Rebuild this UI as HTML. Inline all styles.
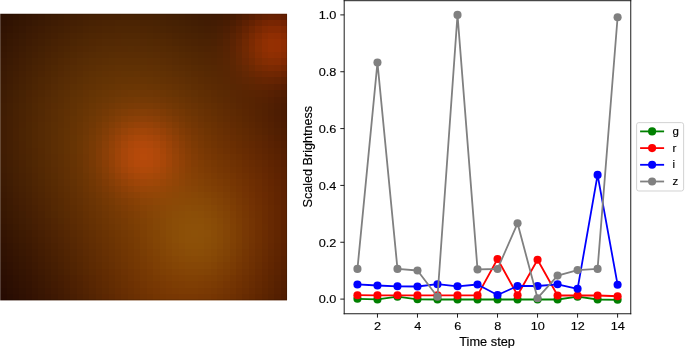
<!DOCTYPE html>
<html><head><meta charset="utf-8"><style>
html,body{margin:0;padding:0;background:#fff;}
body{width:685px;height:348px;overflow:hidden;position:relative;}
svg{position:absolute;display:block;}
.ch{will-change:transform;}
.ch{left:0;top:0;}
text{font-family:"Liberation Sans",sans-serif;font-size:11.1px;fill:#000;stroke:#000;stroke-width:0.15px;}
.tk{font-size:11.7px;} .lb{font-size:12.4px;} .lg{font-size:11.5px;}
</style></head><body>
<svg class="im" style="left:0;top:0" width="290" height="302" viewBox="0 0 290 302" shape-rendering="crispEdges"><rect x="1" y="14" width="6" height="6" fill="#2e1102"/><rect x="7" y="14" width="6" height="6" fill="#2f1202"/><rect x="13" y="14" width="6" height="6" fill="#311302"/><rect x="19" y="14" width="7" height="6" fill="#331502"/><rect x="26" y="14" width="6" height="6" fill="#351602"/><rect x="32" y="14" width="6" height="6" fill="#371703"/><rect x="38" y="14" width="7" height="6" fill="#391803"/><rect x="45" y="14" width="6" height="6" fill="#3b1a03"/><rect x="51" y="14" width="7" height="6" fill="#3d1b03"/><rect x="58" y="14" width="6" height="6" fill="#3e1c03"/><rect x="64" y="14" width="6" height="6" fill="#401d03"/><rect x="70" y="14" width="7" height="6" fill="#411e03"/><rect x="77" y="14" width="6" height="6" fill="#431e03"/><rect x="83" y="14" width="6" height="6" fill="#441f03"/><rect x="89" y="14" width="7" height="6" fill="#452003"/><rect x="96" y="14" width="6" height="6" fill="#462003"/><rect x="102" y="14" width="7" height="6" fill="#462103"/><rect x="109" y="14" width="6" height="6" fill="#472103"/><rect x="115" y="14" width="6" height="6" fill="#472103"/><rect x="121" y="14" width="7" height="6" fill="#482203"/><rect x="128" y="14" width="6" height="6" fill="#482203"/><rect x="134" y="14" width="6" height="6" fill="#472203"/><rect x="140" y="14" width="7" height="6" fill="#472103"/><rect x="147" y="14" width="6" height="6" fill="#472103"/><rect x="153" y="14" width="7" height="6" fill="#462103"/><rect x="160" y="14" width="6" height="6" fill="#452003"/><rect x="166" y="14" width="6" height="6" fill="#441f03"/><rect x="172" y="14" width="7" height="6" fill="#431f03"/><rect x="179" y="14" width="6" height="6" fill="#421e03"/><rect x="185" y="14" width="6" height="6" fill="#411d03"/><rect x="191" y="14" width="7" height="6" fill="#401c03"/><rect x="198" y="14" width="6" height="6" fill="#3f1b03"/><rect x="204" y="14" width="7" height="6" fill="#3f1b03"/><rect x="211" y="14" width="6" height="6" fill="#3f1a03"/><rect x="217" y="14" width="6" height="6" fill="#401a02"/><rect x="223" y="14" width="7" height="6" fill="#431a02"/><rect x="230" y="14" width="6" height="6" fill="#471b02"/><rect x="236" y="14" width="6" height="6" fill="#4d1c02"/><rect x="242" y="14" width="7" height="6" fill="#531d02"/><rect x="249" y="14" width="6" height="6" fill="#5a1e02"/><rect x="255" y="14" width="7" height="6" fill="#612002"/><rect x="262" y="14" width="6" height="6" fill="#662102"/><rect x="268" y="14" width="6" height="6" fill="#692102"/><rect x="274" y="14" width="7" height="6" fill="#692002"/><rect x="281" y="14" width="6" height="6" fill="#651f02"/><rect x="1" y="20" width="6" height="6" fill="#2f1202"/><rect x="7" y="20" width="6" height="6" fill="#311302"/><rect x="13" y="20" width="6" height="6" fill="#331502"/><rect x="19" y="20" width="7" height="6" fill="#351602"/><rect x="26" y="20" width="6" height="6" fill="#371703"/><rect x="32" y="20" width="6" height="6" fill="#391903"/><rect x="38" y="20" width="7" height="6" fill="#3b1a03"/><rect x="45" y="20" width="6" height="6" fill="#3d1b03"/><rect x="51" y="20" width="7" height="6" fill="#3f1c03"/><rect x="58" y="20" width="6" height="6" fill="#411d03"/><rect x="64" y="20" width="6" height="6" fill="#431e03"/><rect x="70" y="20" width="7" height="6" fill="#441f03"/><rect x="77" y="20" width="6" height="6" fill="#452003"/><rect x="83" y="20" width="6" height="6" fill="#472103"/><rect x="89" y="20" width="7" height="6" fill="#482203"/><rect x="96" y="20" width="6" height="6" fill="#492203"/><rect x="102" y="20" width="7" height="6" fill="#4a2303"/><rect x="109" y="20" width="6" height="6" fill="#4a2303"/><rect x="115" y="20" width="6" height="6" fill="#4b2403"/><rect x="121" y="20" width="7" height="6" fill="#4b2403"/><rect x="128" y="20" width="6" height="6" fill="#4b2403"/><rect x="134" y="20" width="6" height="6" fill="#4b2403"/><rect x="140" y="20" width="7" height="6" fill="#4a2303"/><rect x="147" y="20" width="6" height="6" fill="#4a2303"/><rect x="153" y="20" width="7" height="6" fill="#492303"/><rect x="160" y="20" width="6" height="6" fill="#482203"/><rect x="166" y="20" width="6" height="6" fill="#472103"/><rect x="172" y="20" width="7" height="6" fill="#462103"/><rect x="179" y="20" width="6" height="6" fill="#452003"/><rect x="185" y="20" width="6" height="6" fill="#441f03"/><rect x="191" y="20" width="7" height="6" fill="#431e03"/><rect x="198" y="20" width="6" height="6" fill="#421d03"/><rect x="204" y="20" width="7" height="6" fill="#421c03"/><rect x="211" y="20" width="6" height="6" fill="#431c03"/><rect x="217" y="20" width="6" height="6" fill="#451c03"/><rect x="223" y="20" width="7" height="6" fill="#481c02"/><rect x="230" y="20" width="6" height="6" fill="#4d1d02"/><rect x="236" y="20" width="6" height="6" fill="#541e02"/><rect x="242" y="20" width="7" height="6" fill="#5d2002"/><rect x="249" y="20" width="6" height="6" fill="#652202"/><rect x="255" y="20" width="7" height="6" fill="#6e2402"/><rect x="262" y="20" width="6" height="6" fill="#752502"/><rect x="268" y="20" width="6" height="6" fill="#782602"/><rect x="274" y="20" width="7" height="6" fill="#782502"/><rect x="281" y="20" width="6" height="6" fill="#742302"/><rect x="1" y="26" width="6" height="7" fill="#311302"/><rect x="7" y="26" width="6" height="7" fill="#331402"/><rect x="13" y="26" width="6" height="7" fill="#351602"/><rect x="19" y="26" width="7" height="7" fill="#371703"/><rect x="26" y="26" width="6" height="7" fill="#3a1903"/><rect x="32" y="26" width="6" height="7" fill="#3c1a03"/><rect x="38" y="26" width="7" height="7" fill="#3e1b03"/><rect x="45" y="26" width="6" height="7" fill="#401d03"/><rect x="51" y="26" width="7" height="7" fill="#421e03"/><rect x="58" y="26" width="6" height="7" fill="#431f03"/><rect x="64" y="26" width="6" height="7" fill="#452003"/><rect x="70" y="26" width="7" height="7" fill="#472103"/><rect x="77" y="26" width="6" height="7" fill="#482203"/><rect x="83" y="26" width="6" height="7" fill="#4a2303"/><rect x="89" y="26" width="7" height="7" fill="#4b2403"/><rect x="96" y="26" width="6" height="7" fill="#4c2403"/><rect x="102" y="26" width="7" height="7" fill="#4d2503"/><rect x="109" y="26" width="6" height="7" fill="#4d2503"/><rect x="115" y="26" width="6" height="7" fill="#4e2603"/><rect x="121" y="26" width="7" height="7" fill="#4e2603"/><rect x="128" y="26" width="6" height="7" fill="#4e2603"/><rect x="134" y="26" width="6" height="7" fill="#4e2603"/><rect x="140" y="26" width="7" height="7" fill="#4e2503"/><rect x="147" y="26" width="6" height="7" fill="#4d2503"/><rect x="153" y="26" width="7" height="7" fill="#4c2403"/><rect x="160" y="26" width="6" height="7" fill="#4b2403"/><rect x="166" y="26" width="6" height="7" fill="#4a2303"/><rect x="172" y="26" width="7" height="7" fill="#492203"/><rect x="179" y="26" width="6" height="7" fill="#482203"/><rect x="185" y="26" width="6" height="7" fill="#472103"/><rect x="191" y="26" width="7" height="7" fill="#462003"/><rect x="198" y="26" width="6" height="7" fill="#451f03"/><rect x="204" y="26" width="7" height="7" fill="#451e03"/><rect x="211" y="26" width="6" height="7" fill="#461e03"/><rect x="217" y="26" width="6" height="7" fill="#491e03"/><rect x="223" y="26" width="7" height="7" fill="#4d1e03"/><rect x="230" y="26" width="6" height="7" fill="#531f02"/><rect x="236" y="26" width="6" height="7" fill="#5b2102"/><rect x="242" y="26" width="7" height="7" fill="#652302"/><rect x="249" y="26" width="6" height="7" fill="#6f2602"/><rect x="255" y="26" width="7" height="7" fill="#792802"/><rect x="262" y="26" width="6" height="7" fill="#812a02"/><rect x="268" y="26" width="6" height="7" fill="#852a02"/><rect x="274" y="26" width="7" height="7" fill="#852a02"/><rect x="281" y="26" width="6" height="7" fill="#812802"/><rect x="1" y="33" width="6" height="6" fill="#331402"/><rect x="7" y="33" width="6" height="6" fill="#351602"/><rect x="13" y="33" width="6" height="6" fill="#371703"/><rect x="19" y="33" width="7" height="6" fill="#391903"/><rect x="26" y="33" width="6" height="6" fill="#3c1a03"/><rect x="32" y="33" width="6" height="6" fill="#3e1b03"/><rect x="38" y="33" width="7" height="6" fill="#401d03"/><rect x="45" y="33" width="6" height="6" fill="#421e03"/><rect x="51" y="33" width="7" height="6" fill="#441f03"/><rect x="58" y="33" width="6" height="6" fill="#462103"/><rect x="64" y="33" width="6" height="6" fill="#482203"/><rect x="70" y="33" width="7" height="6" fill="#4a2303"/><rect x="77" y="33" width="6" height="6" fill="#4b2403"/><rect x="83" y="33" width="6" height="6" fill="#4d2503"/><rect x="89" y="33" width="7" height="6" fill="#4e2603"/><rect x="96" y="33" width="6" height="6" fill="#4f2603"/><rect x="102" y="33" width="7" height="6" fill="#502703"/><rect x="109" y="33" width="6" height="6" fill="#502703"/><rect x="115" y="33" width="6" height="6" fill="#512703"/><rect x="121" y="33" width="7" height="6" fill="#512803"/><rect x="128" y="33" width="6" height="6" fill="#512803"/><rect x="134" y="33" width="6" height="6" fill="#512803"/><rect x="140" y="33" width="7" height="6" fill="#512703"/><rect x="147" y="33" width="6" height="6" fill="#502703"/><rect x="153" y="33" width="7" height="6" fill="#4f2603"/><rect x="160" y="33" width="6" height="6" fill="#4f2603"/><rect x="166" y="33" width="6" height="6" fill="#4e2503"/><rect x="172" y="33" width="7" height="6" fill="#4c2403"/><rect x="179" y="33" width="6" height="6" fill="#4b2303"/><rect x="185" y="33" width="6" height="6" fill="#4a2203"/><rect x="191" y="33" width="7" height="6" fill="#492203"/><rect x="198" y="33" width="6" height="6" fill="#482103"/><rect x="204" y="33" width="7" height="6" fill="#482003"/><rect x="211" y="33" width="6" height="6" fill="#492003"/><rect x="217" y="33" width="6" height="6" fill="#4c2003"/><rect x="223" y="33" width="7" height="6" fill="#512003"/><rect x="230" y="33" width="6" height="6" fill="#582203"/><rect x="236" y="33" width="6" height="6" fill="#602302"/><rect x="242" y="33" width="7" height="6" fill="#6b2602"/><rect x="249" y="33" width="6" height="6" fill="#772902"/><rect x="255" y="33" width="7" height="6" fill="#812b02"/><rect x="262" y="33" width="6" height="6" fill="#8a2d02"/><rect x="268" y="33" width="6" height="6" fill="#8f2e02"/><rect x="274" y="33" width="7" height="6" fill="#8f2d02"/><rect x="281" y="33" width="6" height="6" fill="#8a2b02"/><rect x="1" y="39" width="6" height="7" fill="#341502"/><rect x="7" y="39" width="6" height="7" fill="#371702"/><rect x="13" y="39" width="6" height="7" fill="#391803"/><rect x="19" y="39" width="7" height="7" fill="#3b1a03"/><rect x="26" y="39" width="6" height="7" fill="#3e1b03"/><rect x="32" y="39" width="6" height="7" fill="#401d03"/><rect x="38" y="39" width="7" height="7" fill="#421e03"/><rect x="45" y="39" width="6" height="7" fill="#442003"/><rect x="51" y="39" width="7" height="7" fill="#472103"/><rect x="58" y="39" width="6" height="7" fill="#492203"/><rect x="64" y="39" width="6" height="7" fill="#4a2303"/><rect x="70" y="39" width="7" height="7" fill="#4c2503"/><rect x="77" y="39" width="6" height="7" fill="#4e2603"/><rect x="83" y="39" width="6" height="7" fill="#4f2703"/><rect x="89" y="39" width="7" height="7" fill="#512703"/><rect x="96" y="39" width="6" height="7" fill="#522803"/><rect x="102" y="39" width="7" height="7" fill="#532904"/><rect x="109" y="39" width="6" height="7" fill="#532904"/><rect x="115" y="39" width="6" height="7" fill="#542904"/><rect x="121" y="39" width="7" height="7" fill="#542a04"/><rect x="128" y="39" width="6" height="7" fill="#542a04"/><rect x="134" y="39" width="6" height="7" fill="#542a04"/><rect x="140" y="39" width="7" height="7" fill="#542904"/><rect x="147" y="39" width="6" height="7" fill="#532903"/><rect x="153" y="39" width="7" height="7" fill="#532803"/><rect x="160" y="39" width="6" height="7" fill="#522803"/><rect x="166" y="39" width="6" height="7" fill="#512703"/><rect x="172" y="39" width="7" height="7" fill="#4f2603"/><rect x="179" y="39" width="6" height="7" fill="#4e2503"/><rect x="185" y="39" width="6" height="7" fill="#4d2403"/><rect x="191" y="39" width="7" height="7" fill="#4c2303"/><rect x="198" y="39" width="6" height="7" fill="#4b2203"/><rect x="204" y="39" width="7" height="7" fill="#4b2203"/><rect x="211" y="39" width="6" height="7" fill="#4c2103"/><rect x="217" y="39" width="6" height="7" fill="#4f2103"/><rect x="223" y="39" width="7" height="7" fill="#542203"/><rect x="230" y="39" width="6" height="7" fill="#5b2303"/><rect x="236" y="39" width="6" height="7" fill="#642503"/><rect x="242" y="39" width="7" height="7" fill="#6f2802"/><rect x="249" y="39" width="6" height="7" fill="#7b2a02"/><rect x="255" y="39" width="7" height="7" fill="#862d02"/><rect x="262" y="39" width="6" height="7" fill="#8f2f02"/><rect x="268" y="39" width="6" height="7" fill="#943002"/><rect x="274" y="39" width="7" height="7" fill="#942f02"/><rect x="281" y="39" width="6" height="7" fill="#8f2d02"/><rect x="1" y="46" width="6" height="6" fill="#361602"/><rect x="7" y="46" width="6" height="6" fill="#381803"/><rect x="13" y="46" width="6" height="6" fill="#3b1903"/><rect x="19" y="46" width="7" height="6" fill="#3d1b03"/><rect x="26" y="46" width="6" height="6" fill="#401d03"/><rect x="32" y="46" width="6" height="6" fill="#421e03"/><rect x="38" y="46" width="7" height="6" fill="#442003"/><rect x="45" y="46" width="6" height="6" fill="#472103"/><rect x="51" y="46" width="7" height="6" fill="#492203"/><rect x="58" y="46" width="6" height="6" fill="#4b2403"/><rect x="64" y="46" width="6" height="6" fill="#4d2503"/><rect x="70" y="46" width="7" height="6" fill="#4f2603"/><rect x="77" y="46" width="6" height="6" fill="#512703"/><rect x="83" y="46" width="6" height="6" fill="#522803"/><rect x="89" y="46" width="7" height="6" fill="#532904"/><rect x="96" y="46" width="6" height="6" fill="#552a04"/><rect x="102" y="46" width="7" height="6" fill="#562b04"/><rect x="109" y="46" width="6" height="6" fill="#562b04"/><rect x="115" y="46" width="6" height="6" fill="#572b04"/><rect x="121" y="46" width="7" height="6" fill="#572b04"/><rect x="128" y="46" width="6" height="6" fill="#572c04"/><rect x="134" y="46" width="6" height="6" fill="#572b04"/><rect x="140" y="46" width="7" height="6" fill="#572b04"/><rect x="147" y="46" width="6" height="6" fill="#562b04"/><rect x="153" y="46" width="7" height="6" fill="#562a04"/><rect x="160" y="46" width="6" height="6" fill="#552a03"/><rect x="166" y="46" width="6" height="6" fill="#542903"/><rect x="172" y="46" width="7" height="6" fill="#532803"/><rect x="179" y="46" width="6" height="6" fill="#512703"/><rect x="185" y="46" width="6" height="6" fill="#502603"/><rect x="191" y="46" width="7" height="6" fill="#4f2503"/><rect x="198" y="46" width="6" height="6" fill="#4e2403"/><rect x="204" y="46" width="7" height="6" fill="#4e2303"/><rect x="211" y="46" width="6" height="6" fill="#4f2303"/><rect x="217" y="46" width="6" height="6" fill="#522303"/><rect x="223" y="46" width="7" height="6" fill="#562303"/><rect x="230" y="46" width="6" height="6" fill="#5d2403"/><rect x="236" y="46" width="6" height="6" fill="#662603"/><rect x="242" y="46" width="7" height="6" fill="#702902"/><rect x="249" y="46" width="6" height="6" fill="#7c2b02"/><rect x="255" y="46" width="7" height="6" fill="#862e02"/><rect x="262" y="46" width="6" height="6" fill="#8f2f02"/><rect x="268" y="46" width="6" height="6" fill="#943002"/><rect x="274" y="46" width="7" height="6" fill="#942f02"/><rect x="281" y="46" width="6" height="6" fill="#8e2d02"/><rect x="1" y="52" width="6" height="6" fill="#371703"/><rect x="7" y="52" width="6" height="6" fill="#3a1903"/><rect x="13" y="52" width="6" height="6" fill="#3c1a03"/><rect x="19" y="52" width="7" height="6" fill="#3f1c03"/><rect x="26" y="52" width="6" height="6" fill="#411e03"/><rect x="32" y="52" width="6" height="6" fill="#441f03"/><rect x="38" y="52" width="7" height="6" fill="#462103"/><rect x="45" y="52" width="6" height="6" fill="#492203"/><rect x="51" y="52" width="7" height="6" fill="#4b2403"/><rect x="58" y="52" width="6" height="6" fill="#4d2503"/><rect x="64" y="52" width="6" height="6" fill="#4f2703"/><rect x="70" y="52" width="7" height="6" fill="#512803"/><rect x="77" y="52" width="6" height="6" fill="#532904"/><rect x="83" y="52" width="6" height="6" fill="#552a04"/><rect x="89" y="52" width="7" height="6" fill="#562b04"/><rect x="96" y="52" width="6" height="6" fill="#572c04"/><rect x="102" y="52" width="7" height="6" fill="#582c04"/><rect x="109" y="52" width="6" height="6" fill="#592d04"/><rect x="115" y="52" width="6" height="6" fill="#5a2d04"/><rect x="121" y="52" width="7" height="6" fill="#5a2d04"/><rect x="128" y="52" width="6" height="6" fill="#5a2d04"/><rect x="134" y="52" width="6" height="6" fill="#5a2d04"/><rect x="140" y="52" width="7" height="6" fill="#5a2d04"/><rect x="147" y="52" width="6" height="6" fill="#592d04"/><rect x="153" y="52" width="7" height="6" fill="#592c04"/><rect x="160" y="52" width="6" height="6" fill="#582b04"/><rect x="166" y="52" width="6" height="6" fill="#572b04"/><rect x="172" y="52" width="7" height="6" fill="#562a03"/><rect x="179" y="52" width="6" height="6" fill="#542903"/><rect x="185" y="52" width="6" height="6" fill="#532803"/><rect x="191" y="52" width="7" height="6" fill="#522703"/><rect x="198" y="52" width="6" height="6" fill="#512603"/><rect x="204" y="52" width="7" height="6" fill="#512503"/><rect x="211" y="52" width="6" height="6" fill="#512403"/><rect x="217" y="52" width="6" height="6" fill="#532403"/><rect x="223" y="52" width="7" height="6" fill="#572403"/><rect x="230" y="52" width="6" height="6" fill="#5d2503"/><rect x="236" y="52" width="6" height="6" fill="#652703"/><rect x="242" y="52" width="7" height="6" fill="#6f2903"/><rect x="249" y="52" width="6" height="6" fill="#792b02"/><rect x="255" y="52" width="7" height="6" fill="#832d02"/><rect x="262" y="52" width="6" height="6" fill="#8b2e02"/><rect x="268" y="52" width="6" height="6" fill="#8f2f02"/><rect x="274" y="52" width="7" height="6" fill="#8e2e02"/><rect x="281" y="52" width="6" height="6" fill="#892c02"/><rect x="1" y="58" width="6" height="7" fill="#391803"/><rect x="7" y="58" width="6" height="7" fill="#3b1a03"/><rect x="13" y="58" width="6" height="7" fill="#3e1b03"/><rect x="19" y="58" width="7" height="7" fill="#411d03"/><rect x="26" y="58" width="6" height="7" fill="#431f03"/><rect x="32" y="58" width="6" height="7" fill="#462103"/><rect x="38" y="58" width="7" height="7" fill="#482203"/><rect x="45" y="58" width="6" height="7" fill="#4b2403"/><rect x="51" y="58" width="7" height="7" fill="#4d2503"/><rect x="58" y="58" width="6" height="7" fill="#502703"/><rect x="64" y="58" width="6" height="7" fill="#522803"/><rect x="70" y="58" width="7" height="7" fill="#542904"/><rect x="77" y="58" width="6" height="7" fill="#562b04"/><rect x="83" y="58" width="6" height="7" fill="#572c04"/><rect x="89" y="58" width="7" height="7" fill="#592d04"/><rect x="96" y="58" width="6" height="7" fill="#5a2d04"/><rect x="102" y="58" width="7" height="7" fill="#5b2e04"/><rect x="109" y="58" width="6" height="7" fill="#5c2f04"/><rect x="115" y="58" width="6" height="7" fill="#5d2f04"/><rect x="121" y="58" width="7" height="7" fill="#5d2f04"/><rect x="128" y="58" width="6" height="7" fill="#5d2f04"/><rect x="134" y="58" width="6" height="7" fill="#5d2f04"/><rect x="140" y="58" width="7" height="7" fill="#5d2f04"/><rect x="147" y="58" width="6" height="7" fill="#5d2e04"/><rect x="153" y="58" width="7" height="7" fill="#5c2e04"/><rect x="160" y="58" width="6" height="7" fill="#5b2d04"/><rect x="166" y="58" width="6" height="7" fill="#5a2c04"/><rect x="172" y="58" width="7" height="7" fill="#582b04"/><rect x="179" y="58" width="6" height="7" fill="#572a03"/><rect x="185" y="58" width="6" height="7" fill="#562903"/><rect x="191" y="58" width="7" height="7" fill="#542803"/><rect x="198" y="58" width="6" height="7" fill="#532703"/><rect x="204" y="58" width="7" height="7" fill="#532603"/><rect x="211" y="58" width="6" height="7" fill="#532503"/><rect x="217" y="58" width="6" height="7" fill="#552503"/><rect x="223" y="58" width="7" height="7" fill="#582503"/><rect x="230" y="58" width="6" height="7" fill="#5d2603"/><rect x="236" y="58" width="6" height="7" fill="#642703"/><rect x="242" y="58" width="7" height="7" fill="#6c2803"/><rect x="249" y="58" width="6" height="7" fill="#742a02"/><rect x="255" y="58" width="7" height="7" fill="#7d2c02"/><rect x="262" y="58" width="6" height="7" fill="#832d02"/><rect x="268" y="58" width="6" height="7" fill="#862d02"/><rect x="274" y="58" width="7" height="7" fill="#862c02"/><rect x="281" y="58" width="6" height="7" fill="#812902"/><rect x="1" y="65" width="6" height="6" fill="#3a1903"/><rect x="7" y="65" width="6" height="6" fill="#3d1b03"/><rect x="13" y="65" width="6" height="6" fill="#3f1c03"/><rect x="19" y="65" width="7" height="6" fill="#421e03"/><rect x="26" y="65" width="6" height="6" fill="#452003"/><rect x="32" y="65" width="6" height="6" fill="#482203"/><rect x="38" y="65" width="7" height="6" fill="#4a2303"/><rect x="45" y="65" width="6" height="6" fill="#4d2503"/><rect x="51" y="65" width="7" height="6" fill="#4f2703"/><rect x="58" y="65" width="6" height="6" fill="#522803"/><rect x="64" y="65" width="6" height="6" fill="#542a04"/><rect x="70" y="65" width="7" height="6" fill="#562b04"/><rect x="77" y="65" width="6" height="6" fill="#582c04"/><rect x="83" y="65" width="6" height="6" fill="#5a2d04"/><rect x="89" y="65" width="7" height="6" fill="#5b2e04"/><rect x="96" y="65" width="6" height="6" fill="#5d2f04"/><rect x="102" y="65" width="7" height="6" fill="#5e3004"/><rect x="109" y="65" width="6" height="6" fill="#5f3004"/><rect x="115" y="65" width="6" height="6" fill="#603104"/><rect x="121" y="65" width="7" height="6" fill="#603104"/><rect x="128" y="65" width="6" height="6" fill="#603104"/><rect x="134" y="65" width="6" height="6" fill="#603104"/><rect x="140" y="65" width="7" height="6" fill="#603104"/><rect x="147" y="65" width="6" height="6" fill="#603004"/><rect x="153" y="65" width="7" height="6" fill="#5f3004"/><rect x="160" y="65" width="6" height="6" fill="#5e2f04"/><rect x="166" y="65" width="6" height="6" fill="#5d2e04"/><rect x="172" y="65" width="7" height="6" fill="#5b2d04"/><rect x="179" y="65" width="6" height="6" fill="#5a2c04"/><rect x="185" y="65" width="6" height="6" fill="#592b03"/><rect x="191" y="65" width="7" height="6" fill="#572a03"/><rect x="198" y="65" width="6" height="6" fill="#562903"/><rect x="204" y="65" width="7" height="6" fill="#552803"/><rect x="211" y="65" width="6" height="6" fill="#552703"/><rect x="217" y="65" width="6" height="6" fill="#562603"/><rect x="223" y="65" width="7" height="6" fill="#582603"/><rect x="230" y="65" width="6" height="6" fill="#5c2603"/><rect x="236" y="65" width="6" height="6" fill="#612703"/><rect x="242" y="65" width="7" height="6" fill="#672803"/><rect x="249" y="65" width="6" height="6" fill="#6e2902"/><rect x="255" y="65" width="7" height="6" fill="#752a02"/><rect x="262" y="65" width="6" height="6" fill="#792a02"/><rect x="268" y="65" width="6" height="6" fill="#7c2a02"/><rect x="274" y="65" width="7" height="6" fill="#7b2902"/><rect x="281" y="65" width="6" height="6" fill="#762702"/><rect x="1" y="71" width="6" height="6" fill="#3b1a03"/><rect x="7" y="71" width="6" height="6" fill="#3e1c03"/><rect x="13" y="71" width="6" height="6" fill="#411d03"/><rect x="19" y="71" width="7" height="6" fill="#441f03"/><rect x="26" y="71" width="6" height="6" fill="#472103"/><rect x="32" y="71" width="6" height="6" fill="#492303"/><rect x="38" y="71" width="7" height="6" fill="#4c2403"/><rect x="45" y="71" width="6" height="6" fill="#4f2603"/><rect x="51" y="71" width="7" height="6" fill="#512803"/><rect x="58" y="71" width="6" height="6" fill="#542904"/><rect x="64" y="71" width="6" height="6" fill="#562b04"/><rect x="70" y="71" width="7" height="6" fill="#582c04"/><rect x="77" y="71" width="6" height="6" fill="#5a2d04"/><rect x="83" y="71" width="6" height="6" fill="#5c2f04"/><rect x="89" y="71" width="7" height="6" fill="#5e3004"/><rect x="96" y="71" width="6" height="6" fill="#5f3104"/><rect x="102" y="71" width="7" height="6" fill="#613104"/><rect x="109" y="71" width="6" height="6" fill="#623204"/><rect x="115" y="71" width="6" height="6" fill="#633204"/><rect x="121" y="71" width="7" height="6" fill="#633304"/><rect x="128" y="71" width="6" height="6" fill="#633304"/><rect x="134" y="71" width="6" height="6" fill="#643304"/><rect x="140" y="71" width="7" height="6" fill="#633204"/><rect x="147" y="71" width="6" height="6" fill="#633204"/><rect x="153" y="71" width="7" height="6" fill="#623104"/><rect x="160" y="71" width="6" height="6" fill="#613104"/><rect x="166" y="71" width="6" height="6" fill="#603004"/><rect x="172" y="71" width="7" height="6" fill="#5e2f04"/><rect x="179" y="71" width="6" height="6" fill="#5d2e04"/><rect x="185" y="71" width="6" height="6" fill="#5b2d04"/><rect x="191" y="71" width="7" height="6" fill="#5a2b03"/><rect x="198" y="71" width="6" height="6" fill="#592a03"/><rect x="204" y="71" width="7" height="6" fill="#572903"/><rect x="211" y="71" width="6" height="6" fill="#572803"/><rect x="217" y="71" width="6" height="6" fill="#572703"/><rect x="223" y="71" width="7" height="6" fill="#582603"/><rect x="230" y="71" width="6" height="6" fill="#5b2603"/><rect x="236" y="71" width="6" height="6" fill="#5e2603"/><rect x="242" y="71" width="7" height="6" fill="#632703"/><rect x="249" y="71" width="6" height="6" fill="#682702"/><rect x="255" y="71" width="7" height="6" fill="#6c2702"/><rect x="262" y="71" width="6" height="6" fill="#6f2702"/><rect x="268" y="71" width="6" height="6" fill="#702702"/><rect x="274" y="71" width="7" height="6" fill="#6f2602"/><rect x="281" y="71" width="6" height="6" fill="#6b2302"/><rect x="1" y="77" width="6" height="7" fill="#3c1a03"/><rect x="7" y="77" width="6" height="7" fill="#3f1c03"/><rect x="13" y="77" width="6" height="7" fill="#421e03"/><rect x="19" y="77" width="7" height="7" fill="#452003"/><rect x="26" y="77" width="6" height="7" fill="#482203"/><rect x="32" y="77" width="6" height="7" fill="#4b2403"/><rect x="38" y="77" width="7" height="7" fill="#4e2603"/><rect x="45" y="77" width="6" height="7" fill="#502703"/><rect x="51" y="77" width="7" height="7" fill="#532904"/><rect x="58" y="77" width="6" height="7" fill="#562b04"/><rect x="64" y="77" width="6" height="7" fill="#582c04"/><rect x="70" y="77" width="7" height="7" fill="#5a2d04"/><rect x="77" y="77" width="6" height="7" fill="#5c2f04"/><rect x="83" y="77" width="6" height="7" fill="#5e3004"/><rect x="89" y="77" width="7" height="7" fill="#603104"/><rect x="96" y="77" width="6" height="7" fill="#623204"/><rect x="102" y="77" width="7" height="7" fill="#633304"/><rect x="109" y="77" width="6" height="7" fill="#643304"/><rect x="115" y="77" width="6" height="7" fill="#663404"/><rect x="121" y="77" width="7" height="7" fill="#663404"/><rect x="128" y="77" width="6" height="7" fill="#673404"/><rect x="134" y="77" width="6" height="7" fill="#673404"/><rect x="140" y="77" width="7" height="7" fill="#673404"/><rect x="147" y="77" width="6" height="7" fill="#663404"/><rect x="153" y="77" width="7" height="7" fill="#653304"/><rect x="160" y="77" width="6" height="7" fill="#643204"/><rect x="166" y="77" width="6" height="7" fill="#633104"/><rect x="172" y="77" width="7" height="7" fill="#623004"/><rect x="179" y="77" width="6" height="7" fill="#602f04"/><rect x="185" y="77" width="6" height="7" fill="#5e2e04"/><rect x="191" y="77" width="7" height="7" fill="#5d2d03"/><rect x="198" y="77" width="6" height="7" fill="#5b2b03"/><rect x="204" y="77" width="7" height="7" fill="#5a2a03"/><rect x="211" y="77" width="6" height="7" fill="#592903"/><rect x="217" y="77" width="6" height="7" fill="#582803"/><rect x="223" y="77" width="7" height="7" fill="#592703"/><rect x="230" y="77" width="6" height="7" fill="#5a2603"/><rect x="236" y="77" width="6" height="7" fill="#5c2603"/><rect x="242" y="77" width="7" height="7" fill="#5f2603"/><rect x="249" y="77" width="6" height="7" fill="#612602"/><rect x="255" y="77" width="7" height="7" fill="#642502"/><rect x="262" y="77" width="6" height="7" fill="#662502"/><rect x="268" y="77" width="6" height="7" fill="#662402"/><rect x="274" y="77" width="7" height="7" fill="#642302"/><rect x="281" y="77" width="6" height="7" fill="#602102"/><rect x="1" y="84" width="6" height="6" fill="#3d1b03"/><rect x="7" y="84" width="6" height="6" fill="#401d03"/><rect x="13" y="84" width="6" height="6" fill="#431f03"/><rect x="19" y="84" width="7" height="6" fill="#462103"/><rect x="26" y="84" width="6" height="6" fill="#492303"/><rect x="32" y="84" width="6" height="6" fill="#4c2503"/><rect x="38" y="84" width="7" height="6" fill="#4f2603"/><rect x="45" y="84" width="6" height="6" fill="#522803"/><rect x="51" y="84" width="7" height="6" fill="#552a04"/><rect x="58" y="84" width="6" height="6" fill="#572c04"/><rect x="64" y="84" width="6" height="6" fill="#5a2d04"/><rect x="70" y="84" width="7" height="6" fill="#5c2f04"/><rect x="77" y="84" width="6" height="6" fill="#5e3004"/><rect x="83" y="84" width="6" height="6" fill="#613104"/><rect x="89" y="84" width="7" height="6" fill="#623204"/><rect x="96" y="84" width="6" height="6" fill="#643304"/><rect x="102" y="84" width="7" height="6" fill="#663404"/><rect x="109" y="84" width="6" height="6" fill="#673504"/><rect x="115" y="84" width="6" height="6" fill="#693504"/><rect x="121" y="84" width="7" height="6" fill="#6a3604"/><rect x="128" y="84" width="6" height="6" fill="#6a3604"/><rect x="134" y="84" width="6" height="6" fill="#6b3604"/><rect x="140" y="84" width="7" height="6" fill="#6b3604"/><rect x="147" y="84" width="6" height="6" fill="#6a3504"/><rect x="153" y="84" width="7" height="6" fill="#693504"/><rect x="160" y="84" width="6" height="6" fill="#683404"/><rect x="166" y="84" width="6" height="6" fill="#673304"/><rect x="172" y="84" width="7" height="6" fill="#653204"/><rect x="179" y="84" width="6" height="6" fill="#633104"/><rect x="185" y="84" width="6" height="6" fill="#613004"/><rect x="191" y="84" width="7" height="6" fill="#5f2e03"/><rect x="198" y="84" width="6" height="6" fill="#5e2d03"/><rect x="204" y="84" width="7" height="6" fill="#5c2b03"/><rect x="211" y="84" width="6" height="6" fill="#5b2a03"/><rect x="217" y="84" width="6" height="6" fill="#5a2903"/><rect x="223" y="84" width="7" height="6" fill="#592803"/><rect x="230" y="84" width="6" height="6" fill="#592703"/><rect x="236" y="84" width="6" height="6" fill="#5a2603"/><rect x="242" y="84" width="7" height="6" fill="#5b2502"/><rect x="249" y="84" width="6" height="6" fill="#5d2502"/><rect x="255" y="84" width="7" height="6" fill="#5e2402"/><rect x="262" y="84" width="6" height="6" fill="#5e2302"/><rect x="268" y="84" width="6" height="6" fill="#5d2202"/><rect x="274" y="84" width="7" height="6" fill="#5b2002"/><rect x="281" y="84" width="6" height="6" fill="#581e02"/><rect x="1" y="90" width="6" height="7" fill="#3e1c03"/><rect x="7" y="90" width="6" height="7" fill="#411e03"/><rect x="13" y="90" width="6" height="7" fill="#442003"/><rect x="19" y="90" width="7" height="7" fill="#472203"/><rect x="26" y="90" width="6" height="7" fill="#4b2303"/><rect x="32" y="90" width="6" height="7" fill="#4e2503"/><rect x="38" y="90" width="7" height="7" fill="#502703"/><rect x="45" y="90" width="6" height="7" fill="#532904"/><rect x="51" y="90" width="7" height="7" fill="#562b04"/><rect x="58" y="90" width="6" height="7" fill="#592d04"/><rect x="64" y="90" width="6" height="7" fill="#5b2e04"/><rect x="70" y="90" width="7" height="7" fill="#5e3004"/><rect x="77" y="90" width="6" height="7" fill="#603104"/><rect x="83" y="90" width="6" height="7" fill="#633204"/><rect x="89" y="90" width="7" height="7" fill="#653404"/><rect x="96" y="90" width="6" height="7" fill="#673504"/><rect x="102" y="90" width="7" height="7" fill="#693604"/><rect x="109" y="90" width="6" height="7" fill="#6b3604"/><rect x="115" y="90" width="6" height="7" fill="#6c3705"/><rect x="121" y="90" width="7" height="7" fill="#6e3705"/><rect x="128" y="90" width="6" height="7" fill="#6f3805"/><rect x="134" y="90" width="6" height="7" fill="#6f3805"/><rect x="140" y="90" width="7" height="7" fill="#6f3705"/><rect x="147" y="90" width="6" height="7" fill="#6f3705"/><rect x="153" y="90" width="7" height="7" fill="#6e3604"/><rect x="160" y="90" width="6" height="7" fill="#6c3604"/><rect x="166" y="90" width="6" height="7" fill="#6a3504"/><rect x="172" y="90" width="7" height="7" fill="#683404"/><rect x="179" y="90" width="6" height="7" fill="#663204"/><rect x="185" y="90" width="6" height="7" fill="#643104"/><rect x="191" y="90" width="7" height="7" fill="#623004"/><rect x="198" y="90" width="6" height="7" fill="#602e03"/><rect x="204" y="90" width="7" height="7" fill="#5f2d03"/><rect x="211" y="90" width="6" height="7" fill="#5d2b03"/><rect x="217" y="90" width="6" height="7" fill="#5b2a03"/><rect x="223" y="90" width="7" height="7" fill="#5a2903"/><rect x="230" y="90" width="6" height="7" fill="#5a2703"/><rect x="236" y="90" width="6" height="7" fill="#592603"/><rect x="242" y="90" width="7" height="7" fill="#592502"/><rect x="249" y="90" width="6" height="7" fill="#592402"/><rect x="255" y="90" width="7" height="7" fill="#592302"/><rect x="262" y="90" width="6" height="7" fill="#582202"/><rect x="268" y="90" width="6" height="7" fill="#572002"/><rect x="274" y="90" width="7" height="7" fill="#541f02"/><rect x="281" y="90" width="6" height="7" fill="#511d02"/><rect x="1" y="97" width="6" height="6" fill="#3f1c03"/><rect x="7" y="97" width="6" height="6" fill="#421e03"/><rect x="13" y="97" width="6" height="6" fill="#452003"/><rect x="19" y="97" width="7" height="6" fill="#482203"/><rect x="26" y="97" width="6" height="6" fill="#4c2403"/><rect x="32" y="97" width="6" height="6" fill="#4f2603"/><rect x="38" y="97" width="7" height="6" fill="#522803"/><rect x="45" y="97" width="6" height="6" fill="#552a04"/><rect x="51" y="97" width="7" height="6" fill="#572c04"/><rect x="58" y="97" width="6" height="6" fill="#5a2d04"/><rect x="64" y="97" width="6" height="6" fill="#5d2f04"/><rect x="70" y="97" width="7" height="6" fill="#603104"/><rect x="77" y="97" width="6" height="6" fill="#623204"/><rect x="83" y="97" width="6" height="6" fill="#653304"/><rect x="89" y="97" width="7" height="6" fill="#673504"/><rect x="96" y="97" width="6" height="6" fill="#6a3604"/><rect x="102" y="97" width="7" height="6" fill="#6c3705"/><rect x="109" y="97" width="6" height="6" fill="#6e3805"/><rect x="115" y="97" width="6" height="6" fill="#713905"/><rect x="121" y="97" width="7" height="6" fill="#733905"/><rect x="128" y="97" width="6" height="6" fill="#743905"/><rect x="134" y="97" width="6" height="6" fill="#753a05"/><rect x="140" y="97" width="7" height="6" fill="#753905"/><rect x="147" y="97" width="6" height="6" fill="#743905"/><rect x="153" y="97" width="7" height="6" fill="#733805"/><rect x="160" y="97" width="6" height="6" fill="#713705"/><rect x="166" y="97" width="6" height="6" fill="#6f3604"/><rect x="172" y="97" width="7" height="6" fill="#6d3504"/><rect x="179" y="97" width="6" height="6" fill="#6a3404"/><rect x="185" y="97" width="6" height="6" fill="#683204"/><rect x="191" y="97" width="7" height="6" fill="#653104"/><rect x="198" y="97" width="6" height="6" fill="#632f03"/><rect x="204" y="97" width="7" height="6" fill="#612e03"/><rect x="211" y="97" width="6" height="6" fill="#5f2c03"/><rect x="217" y="97" width="6" height="6" fill="#5d2b03"/><rect x="223" y="97" width="7" height="6" fill="#5c2903"/><rect x="230" y="97" width="6" height="6" fill="#5a2803"/><rect x="236" y="97" width="6" height="6" fill="#592603"/><rect x="242" y="97" width="7" height="6" fill="#582502"/><rect x="249" y="97" width="6" height="6" fill="#572402"/><rect x="255" y="97" width="7" height="6" fill="#562202"/><rect x="262" y="97" width="6" height="6" fill="#552102"/><rect x="268" y="97" width="6" height="6" fill="#531f02"/><rect x="274" y="97" width="7" height="6" fill="#501d02"/><rect x="281" y="97" width="6" height="6" fill="#4d1c02"/><rect x="1" y="103" width="6" height="6" fill="#401d03"/><rect x="7" y="103" width="6" height="6" fill="#431f03"/><rect x="13" y="103" width="6" height="6" fill="#462103"/><rect x="19" y="103" width="7" height="6" fill="#492303"/><rect x="26" y="103" width="6" height="6" fill="#4c2503"/><rect x="32" y="103" width="6" height="6" fill="#502703"/><rect x="38" y="103" width="7" height="6" fill="#532903"/><rect x="45" y="103" width="6" height="6" fill="#562a04"/><rect x="51" y="103" width="7" height="6" fill="#592c04"/><rect x="58" y="103" width="6" height="6" fill="#5b2e04"/><rect x="64" y="103" width="6" height="6" fill="#5e3004"/><rect x="70" y="103" width="7" height="6" fill="#613104"/><rect x="77" y="103" width="6" height="6" fill="#643304"/><rect x="83" y="103" width="6" height="6" fill="#673404"/><rect x="89" y="103" width="7" height="6" fill="#6a3604"/><rect x="96" y="103" width="6" height="6" fill="#6d3705"/><rect x="102" y="103" width="7" height="6" fill="#703805"/><rect x="109" y="103" width="6" height="6" fill="#733905"/><rect x="115" y="103" width="6" height="6" fill="#763a05"/><rect x="121" y="103" width="7" height="6" fill="#783b05"/><rect x="128" y="103" width="6" height="6" fill="#7a3b05"/><rect x="134" y="103" width="6" height="6" fill="#7b3b06"/><rect x="140" y="103" width="7" height="6" fill="#7b3b05"/><rect x="147" y="103" width="6" height="6" fill="#7b3b05"/><rect x="153" y="103" width="7" height="6" fill="#793a05"/><rect x="160" y="103" width="6" height="6" fill="#773905"/><rect x="166" y="103" width="6" height="6" fill="#743805"/><rect x="172" y="103" width="7" height="6" fill="#713704"/><rect x="179" y="103" width="6" height="6" fill="#6e3504"/><rect x="185" y="103" width="6" height="6" fill="#6b3404"/><rect x="191" y="103" width="7" height="6" fill="#693204"/><rect x="198" y="103" width="6" height="6" fill="#663103"/><rect x="204" y="103" width="7" height="6" fill="#642f03"/><rect x="211" y="103" width="6" height="6" fill="#622e03"/><rect x="217" y="103" width="6" height="6" fill="#602c03"/><rect x="223" y="103" width="7" height="6" fill="#5e2a03"/><rect x="230" y="103" width="6" height="6" fill="#5c2903"/><rect x="236" y="103" width="6" height="6" fill="#5a2703"/><rect x="242" y="103" width="7" height="6" fill="#592502"/><rect x="249" y="103" width="6" height="6" fill="#572402"/><rect x="255" y="103" width="7" height="6" fill="#552202"/><rect x="262" y="103" width="6" height="6" fill="#532102"/><rect x="268" y="103" width="6" height="6" fill="#511f02"/><rect x="274" y="103" width="7" height="6" fill="#4e1d02"/><rect x="281" y="103" width="6" height="6" fill="#4b1b02"/><rect x="1" y="109" width="6" height="7" fill="#401d03"/><rect x="7" y="109" width="6" height="7" fill="#431f03"/><rect x="13" y="109" width="6" height="7" fill="#472103"/><rect x="19" y="109" width="7" height="7" fill="#4a2303"/><rect x="26" y="109" width="6" height="7" fill="#4d2503"/><rect x="32" y="109" width="6" height="7" fill="#502703"/><rect x="38" y="109" width="7" height="7" fill="#532904"/><rect x="45" y="109" width="6" height="7" fill="#572b04"/><rect x="51" y="109" width="7" height="7" fill="#5a2d04"/><rect x="58" y="109" width="6" height="7" fill="#5d2f04"/><rect x="64" y="109" width="6" height="7" fill="#603004"/><rect x="70" y="109" width="7" height="7" fill="#623204"/><rect x="77" y="109" width="6" height="7" fill="#663404"/><rect x="83" y="109" width="6" height="7" fill="#693504"/><rect x="89" y="109" width="7" height="7" fill="#6c3705"/><rect x="96" y="109" width="6" height="7" fill="#703805"/><rect x="102" y="109" width="7" height="7" fill="#743905"/><rect x="109" y="109" width="6" height="7" fill="#783b05"/><rect x="115" y="109" width="6" height="7" fill="#7c3c06"/><rect x="121" y="109" width="7" height="7" fill="#7f3d06"/><rect x="128" y="109" width="6" height="7" fill="#823d06"/><rect x="134" y="109" width="6" height="7" fill="#833e06"/><rect x="140" y="109" width="7" height="7" fill="#843e06"/><rect x="147" y="109" width="6" height="7" fill="#833d06"/><rect x="153" y="109" width="7" height="7" fill="#813c06"/><rect x="160" y="109" width="6" height="7" fill="#7e3b05"/><rect x="166" y="109" width="6" height="7" fill="#7a3a05"/><rect x="172" y="109" width="7" height="7" fill="#763805"/><rect x="179" y="109" width="6" height="7" fill="#733704"/><rect x="185" y="109" width="6" height="7" fill="#6f3504"/><rect x="191" y="109" width="7" height="7" fill="#6c3404"/><rect x="198" y="109" width="6" height="7" fill="#693204"/><rect x="204" y="109" width="7" height="7" fill="#673003"/><rect x="211" y="109" width="6" height="7" fill="#642f03"/><rect x="217" y="109" width="6" height="7" fill="#622d03"/><rect x="223" y="109" width="7" height="7" fill="#602b03"/><rect x="230" y="109" width="6" height="7" fill="#5e2a03"/><rect x="236" y="109" width="6" height="7" fill="#5c2802"/><rect x="242" y="109" width="7" height="7" fill="#5a2602"/><rect x="249" y="109" width="6" height="7" fill="#582402"/><rect x="255" y="109" width="7" height="7" fill="#552302"/><rect x="262" y="109" width="6" height="7" fill="#532102"/><rect x="268" y="109" width="6" height="7" fill="#501f02"/><rect x="274" y="109" width="7" height="7" fill="#4d1d02"/><rect x="281" y="109" width="6" height="7" fill="#4a1b02"/><rect x="1" y="116" width="6" height="6" fill="#411d03"/><rect x="7" y="116" width="6" height="6" fill="#441f03"/><rect x="13" y="116" width="6" height="6" fill="#472103"/><rect x="19" y="116" width="7" height="6" fill="#4a2303"/><rect x="26" y="116" width="6" height="6" fill="#4e2503"/><rect x="32" y="116" width="6" height="6" fill="#512703"/><rect x="38" y="116" width="7" height="6" fill="#542904"/><rect x="45" y="116" width="6" height="6" fill="#572b04"/><rect x="51" y="116" width="7" height="6" fill="#5a2d04"/><rect x="58" y="116" width="6" height="6" fill="#5d2f04"/><rect x="64" y="116" width="6" height="6" fill="#613104"/><rect x="70" y="116" width="7" height="6" fill="#643304"/><rect x="77" y="116" width="6" height="6" fill="#673404"/><rect x="83" y="116" width="6" height="6" fill="#6b3604"/><rect x="89" y="116" width="7" height="6" fill="#6f3805"/><rect x="96" y="116" width="6" height="6" fill="#733905"/><rect x="102" y="116" width="7" height="6" fill="#783b05"/><rect x="109" y="116" width="6" height="6" fill="#7d3c06"/><rect x="115" y="116" width="6" height="6" fill="#823e06"/><rect x="121" y="116" width="7" height="6" fill="#873f06"/><rect x="128" y="116" width="6" height="6" fill="#8a4007"/><rect x="134" y="116" width="6" height="6" fill="#8c4007"/><rect x="140" y="116" width="7" height="6" fill="#8d4007"/><rect x="147" y="116" width="6" height="6" fill="#8c3f07"/><rect x="153" y="116" width="7" height="6" fill="#893f06"/><rect x="160" y="116" width="6" height="6" fill="#853d06"/><rect x="166" y="116" width="6" height="6" fill="#813c06"/><rect x="172" y="116" width="7" height="6" fill="#7c3a05"/><rect x="179" y="116" width="6" height="6" fill="#773805"/><rect x="185" y="116" width="6" height="6" fill="#733704"/><rect x="191" y="116" width="7" height="6" fill="#703504"/><rect x="198" y="116" width="6" height="6" fill="#6c3304"/><rect x="204" y="116" width="7" height="6" fill="#693103"/><rect x="211" y="116" width="6" height="6" fill="#673003"/><rect x="217" y="116" width="6" height="6" fill="#642e03"/><rect x="223" y="116" width="7" height="6" fill="#622c03"/><rect x="230" y="116" width="6" height="6" fill="#602a03"/><rect x="236" y="116" width="6" height="6" fill="#5e2902"/><rect x="242" y="116" width="7" height="6" fill="#5b2702"/><rect x="249" y="116" width="6" height="6" fill="#592502"/><rect x="255" y="116" width="7" height="6" fill="#562302"/><rect x="262" y="116" width="6" height="6" fill="#542102"/><rect x="268" y="116" width="6" height="6" fill="#511f02"/><rect x="274" y="116" width="7" height="6" fill="#4e1d02"/><rect x="281" y="116" width="6" height="6" fill="#4b1b02"/><rect x="1" y="122" width="6" height="6" fill="#411d03"/><rect x="7" y="122" width="6" height="6" fill="#441f03"/><rect x="13" y="122" width="6" height="6" fill="#472103"/><rect x="19" y="122" width="7" height="6" fill="#4b2303"/><rect x="26" y="122" width="6" height="6" fill="#4e2603"/><rect x="32" y="122" width="6" height="6" fill="#512803"/><rect x="38" y="122" width="7" height="6" fill="#552a04"/><rect x="45" y="122" width="6" height="6" fill="#582c04"/><rect x="51" y="122" width="7" height="6" fill="#5b2e04"/><rect x="58" y="122" width="6" height="6" fill="#5e2f04"/><rect x="64" y="122" width="6" height="6" fill="#613104"/><rect x="70" y="122" width="7" height="6" fill="#653304"/><rect x="77" y="122" width="6" height="6" fill="#693504"/><rect x="83" y="122" width="6" height="6" fill="#6d3705"/><rect x="89" y="122" width="7" height="6" fill="#713805"/><rect x="96" y="122" width="6" height="6" fill="#773a05"/><rect x="102" y="122" width="7" height="6" fill="#7d3c06"/><rect x="109" y="122" width="6" height="6" fill="#833e06"/><rect x="115" y="122" width="6" height="6" fill="#893f07"/><rect x="121" y="122" width="7" height="6" fill="#8f4107"/><rect x="128" y="122" width="6" height="6" fill="#934207"/><rect x="134" y="122" width="6" height="6" fill="#964208"/><rect x="140" y="122" width="7" height="6" fill="#974208"/><rect x="147" y="122" width="6" height="6" fill="#964207"/><rect x="153" y="122" width="7" height="6" fill="#924107"/><rect x="160" y="122" width="6" height="6" fill="#8d3f07"/><rect x="166" y="122" width="6" height="6" fill="#883e06"/><rect x="172" y="122" width="7" height="6" fill="#823c05"/><rect x="179" y="122" width="6" height="6" fill="#7c3a05"/><rect x="185" y="122" width="6" height="6" fill="#773804"/><rect x="191" y="122" width="7" height="6" fill="#733604"/><rect x="198" y="122" width="6" height="6" fill="#6f3404"/><rect x="204" y="122" width="7" height="6" fill="#6c3303"/><rect x="211" y="122" width="6" height="6" fill="#6a3103"/><rect x="217" y="122" width="6" height="6" fill="#672f03"/><rect x="223" y="122" width="7" height="6" fill="#652d03"/><rect x="230" y="122" width="6" height="6" fill="#622b03"/><rect x="236" y="122" width="6" height="6" fill="#602a02"/><rect x="242" y="122" width="7" height="6" fill="#5d2802"/><rect x="249" y="122" width="6" height="6" fill="#5b2602"/><rect x="255" y="122" width="7" height="6" fill="#582402"/><rect x="262" y="122" width="6" height="6" fill="#552202"/><rect x="268" y="122" width="6" height="6" fill="#532002"/><rect x="274" y="122" width="7" height="6" fill="#4f1e02"/><rect x="281" y="122" width="6" height="6" fill="#4c1c01"/><rect x="1" y="128" width="6" height="7" fill="#411d03"/><rect x="7" y="128" width="6" height="7" fill="#441f03"/><rect x="13" y="128" width="6" height="7" fill="#482103"/><rect x="19" y="128" width="7" height="7" fill="#4b2403"/><rect x="26" y="128" width="6" height="7" fill="#4e2603"/><rect x="32" y="128" width="6" height="7" fill="#522803"/><rect x="38" y="128" width="7" height="7" fill="#552a04"/><rect x="45" y="128" width="6" height="7" fill="#582c04"/><rect x="51" y="128" width="7" height="7" fill="#5b2e04"/><rect x="58" y="128" width="6" height="7" fill="#5f3004"/><rect x="64" y="128" width="6" height="7" fill="#623204"/><rect x="70" y="128" width="7" height="7" fill="#663304"/><rect x="77" y="128" width="6" height="7" fill="#6a3504"/><rect x="83" y="128" width="6" height="7" fill="#6e3705"/><rect x="89" y="128" width="7" height="7" fill="#743905"/><rect x="96" y="128" width="6" height="7" fill="#7a3b05"/><rect x="102" y="128" width="7" height="7" fill="#813d06"/><rect x="109" y="128" width="6" height="7" fill="#893f07"/><rect x="115" y="128" width="6" height="7" fill="#904107"/><rect x="121" y="128" width="7" height="7" fill="#974308"/><rect x="128" y="128" width="6" height="7" fill="#9d4408"/><rect x="134" y="128" width="6" height="7" fill="#a04508"/><rect x="140" y="128" width="7" height="7" fill="#a14508"/><rect x="147" y="128" width="6" height="7" fill="#9f4408"/><rect x="153" y="128" width="7" height="7" fill="#9b4308"/><rect x="160" y="128" width="6" height="7" fill="#964107"/><rect x="166" y="128" width="6" height="7" fill="#8f4007"/><rect x="172" y="128" width="7" height="7" fill="#883e06"/><rect x="179" y="128" width="6" height="7" fill="#813b05"/><rect x="185" y="128" width="6" height="7" fill="#7c3905"/><rect x="191" y="128" width="7" height="7" fill="#773704"/><rect x="198" y="128" width="6" height="7" fill="#733604"/><rect x="204" y="128" width="7" height="7" fill="#6f3403"/><rect x="211" y="128" width="6" height="7" fill="#6c3203"/><rect x="217" y="128" width="6" height="7" fill="#6a3003"/><rect x="223" y="128" width="7" height="7" fill="#672e03"/><rect x="230" y="128" width="6" height="7" fill="#652c03"/><rect x="236" y="128" width="6" height="7" fill="#622b02"/><rect x="242" y="128" width="7" height="7" fill="#602902"/><rect x="249" y="128" width="6" height="7" fill="#5d2702"/><rect x="255" y="128" width="7" height="7" fill="#5a2502"/><rect x="262" y="128" width="6" height="7" fill="#572302"/><rect x="268" y="128" width="6" height="7" fill="#542102"/><rect x="274" y="128" width="7" height="7" fill="#511f02"/><rect x="281" y="128" width="6" height="7" fill="#4e1d01"/><rect x="1" y="135" width="6" height="6" fill="#411d03"/><rect x="7" y="135" width="6" height="6" fill="#441f03"/><rect x="13" y="135" width="6" height="6" fill="#482103"/><rect x="19" y="135" width="7" height="6" fill="#4b2403"/><rect x="26" y="135" width="6" height="6" fill="#4e2603"/><rect x="32" y="135" width="6" height="6" fill="#522803"/><rect x="38" y="135" width="7" height="6" fill="#552a04"/><rect x="45" y="135" width="6" height="6" fill="#582c04"/><rect x="51" y="135" width="7" height="6" fill="#5c2e04"/><rect x="58" y="135" width="6" height="6" fill="#5f3004"/><rect x="64" y="135" width="6" height="6" fill="#633204"/><rect x="70" y="135" width="7" height="6" fill="#663404"/><rect x="77" y="135" width="6" height="6" fill="#6b3604"/><rect x="83" y="135" width="6" height="6" fill="#703805"/><rect x="89" y="135" width="7" height="6" fill="#763a05"/><rect x="96" y="135" width="6" height="6" fill="#7d3c06"/><rect x="102" y="135" width="7" height="6" fill="#853e06"/><rect x="109" y="135" width="6" height="6" fill="#8e4007"/><rect x="115" y="135" width="6" height="6" fill="#974208"/><rect x="121" y="135" width="7" height="6" fill="#9f4408"/><rect x="128" y="135" width="6" height="6" fill="#a54609"/><rect x="134" y="135" width="6" height="6" fill="#a94709"/><rect x="140" y="135" width="7" height="6" fill="#aa4709"/><rect x="147" y="135" width="6" height="6" fill="#a84609"/><rect x="153" y="135" width="7" height="6" fill="#a44508"/><rect x="160" y="135" width="6" height="6" fill="#9d4308"/><rect x="166" y="135" width="6" height="6" fill="#964107"/><rect x="172" y="135" width="7" height="6" fill="#8e3f06"/><rect x="179" y="135" width="6" height="6" fill="#863d05"/><rect x="185" y="135" width="6" height="6" fill="#803b05"/><rect x="191" y="135" width="7" height="6" fill="#7a3904"/><rect x="198" y="135" width="6" height="6" fill="#763704"/><rect x="204" y="135" width="7" height="6" fill="#723503"/><rect x="211" y="135" width="6" height="6" fill="#6f3303"/><rect x="217" y="135" width="6" height="6" fill="#6c3103"/><rect x="223" y="135" width="7" height="6" fill="#6a2f03"/><rect x="230" y="135" width="6" height="6" fill="#672d03"/><rect x="236" y="135" width="6" height="6" fill="#652c02"/><rect x="242" y="135" width="7" height="6" fill="#622a02"/><rect x="249" y="135" width="6" height="6" fill="#5f2802"/><rect x="255" y="135" width="7" height="6" fill="#5d2602"/><rect x="262" y="135" width="6" height="6" fill="#5a2402"/><rect x="268" y="135" width="6" height="6" fill="#572102"/><rect x="274" y="135" width="7" height="6" fill="#531f01"/><rect x="281" y="135" width="6" height="6" fill="#501d01"/><rect x="1" y="141" width="6" height="7" fill="#411d03"/><rect x="7" y="141" width="6" height="7" fill="#441f03"/><rect x="13" y="141" width="6" height="7" fill="#472103"/><rect x="19" y="141" width="7" height="7" fill="#4b2303"/><rect x="26" y="141" width="6" height="7" fill="#4e2603"/><rect x="32" y="141" width="6" height="7" fill="#522803"/><rect x="38" y="141" width="7" height="7" fill="#552a03"/><rect x="45" y="141" width="6" height="7" fill="#582c04"/><rect x="51" y="141" width="7" height="7" fill="#5c2e04"/><rect x="58" y="141" width="6" height="7" fill="#5f3004"/><rect x="64" y="141" width="6" height="7" fill="#633204"/><rect x="70" y="141" width="7" height="7" fill="#673404"/><rect x="77" y="141" width="6" height="7" fill="#6c3604"/><rect x="83" y="141" width="6" height="7" fill="#713805"/><rect x="89" y="141" width="7" height="7" fill="#783a05"/><rect x="96" y="141" width="6" height="7" fill="#7f3c06"/><rect x="102" y="141" width="7" height="7" fill="#883f07"/><rect x="109" y="141" width="6" height="7" fill="#924107"/><rect x="115" y="141" width="6" height="7" fill="#9b4308"/><rect x="121" y="141" width="7" height="7" fill="#a44609"/><rect x="128" y="141" width="6" height="7" fill="#ac4709"/><rect x="134" y="141" width="6" height="7" fill="#b0480a"/><rect x="140" y="141" width="7" height="7" fill="#b1480a"/><rect x="147" y="141" width="6" height="7" fill="#af480a"/><rect x="153" y="141" width="7" height="7" fill="#aa4709"/><rect x="160" y="141" width="6" height="7" fill="#a34508"/><rect x="166" y="141" width="6" height="7" fill="#9b4307"/><rect x="172" y="141" width="7" height="7" fill="#924007"/><rect x="179" y="141" width="6" height="7" fill="#8a3e06"/><rect x="185" y="141" width="6" height="7" fill="#833c05"/><rect x="191" y="141" width="7" height="7" fill="#7d3a04"/><rect x="198" y="141" width="6" height="7" fill="#783804"/><rect x="204" y="141" width="7" height="7" fill="#743603"/><rect x="211" y="141" width="6" height="7" fill="#713403"/><rect x="217" y="141" width="6" height="7" fill="#6e3203"/><rect x="223" y="141" width="7" height="7" fill="#6c3003"/><rect x="230" y="141" width="6" height="7" fill="#6a2e02"/><rect x="236" y="141" width="6" height="7" fill="#672c02"/><rect x="242" y="141" width="7" height="7" fill="#642a02"/><rect x="249" y="141" width="6" height="7" fill="#622802"/><rect x="255" y="141" width="7" height="7" fill="#5f2602"/><rect x="262" y="141" width="6" height="7" fill="#5c2402"/><rect x="268" y="141" width="6" height="7" fill="#592202"/><rect x="274" y="141" width="7" height="7" fill="#562001"/><rect x="281" y="141" width="6" height="7" fill="#521e01"/><rect x="1" y="148" width="6" height="6" fill="#411d03"/><rect x="7" y="148" width="6" height="6" fill="#441f03"/><rect x="13" y="148" width="6" height="6" fill="#472103"/><rect x="19" y="148" width="7" height="6" fill="#4b2303"/><rect x="26" y="148" width="6" height="6" fill="#4e2503"/><rect x="32" y="148" width="6" height="6" fill="#512703"/><rect x="38" y="148" width="7" height="6" fill="#552903"/><rect x="45" y="148" width="6" height="6" fill="#582c04"/><rect x="51" y="148" width="7" height="6" fill="#5c2e04"/><rect x="58" y="148" width="6" height="6" fill="#5f3004"/><rect x="64" y="148" width="6" height="6" fill="#633204"/><rect x="70" y="148" width="7" height="6" fill="#673404"/><rect x="77" y="148" width="6" height="6" fill="#6c3604"/><rect x="83" y="148" width="6" height="6" fill="#723805"/><rect x="89" y="148" width="7" height="6" fill="#783a05"/><rect x="96" y="148" width="6" height="6" fill="#813c06"/><rect x="102" y="148" width="7" height="6" fill="#8a3f07"/><rect x="109" y="148" width="6" height="6" fill="#944207"/><rect x="115" y="148" width="6" height="6" fill="#9e4408"/><rect x="121" y="148" width="7" height="6" fill="#a84609"/><rect x="128" y="148" width="6" height="6" fill="#af480a"/><rect x="134" y="148" width="6" height="6" fill="#b4490a"/><rect x="140" y="148" width="7" height="6" fill="#b6490a"/><rect x="147" y="148" width="6" height="6" fill="#b4490a"/><rect x="153" y="148" width="7" height="6" fill="#af4809"/><rect x="160" y="148" width="6" height="6" fill="#a74608"/><rect x="166" y="148" width="6" height="6" fill="#9e4408"/><rect x="172" y="148" width="7" height="6" fill="#954207"/><rect x="179" y="148" width="6" height="6" fill="#8d3f06"/><rect x="185" y="148" width="6" height="6" fill="#863d05"/><rect x="191" y="148" width="7" height="6" fill="#803b04"/><rect x="198" y="148" width="6" height="6" fill="#7b3904"/><rect x="204" y="148" width="7" height="6" fill="#773704"/><rect x="211" y="148" width="6" height="6" fill="#743503"/><rect x="217" y="148" width="6" height="6" fill="#713303"/><rect x="223" y="148" width="7" height="6" fill="#6e3103"/><rect x="230" y="148" width="6" height="6" fill="#6c2f02"/><rect x="236" y="148" width="6" height="6" fill="#692d02"/><rect x="242" y="148" width="7" height="6" fill="#672b02"/><rect x="249" y="148" width="6" height="6" fill="#642902"/><rect x="255" y="148" width="7" height="6" fill="#612702"/><rect x="262" y="148" width="6" height="6" fill="#5e2502"/><rect x="268" y="148" width="6" height="6" fill="#5b2301"/><rect x="274" y="148" width="7" height="6" fill="#582101"/><rect x="281" y="148" width="6" height="6" fill="#541f01"/><rect x="1" y="154" width="6" height="6" fill="#401d03"/><rect x="7" y="154" width="6" height="6" fill="#431f03"/><rect x="13" y="154" width="6" height="6" fill="#472103"/><rect x="19" y="154" width="7" height="6" fill="#4a2303"/><rect x="26" y="154" width="6" height="6" fill="#4d2503"/><rect x="32" y="154" width="6" height="6" fill="#512703"/><rect x="38" y="154" width="7" height="6" fill="#542903"/><rect x="45" y="154" width="6" height="6" fill="#582b04"/><rect x="51" y="154" width="7" height="6" fill="#5b2d04"/><rect x="58" y="154" width="6" height="6" fill="#5f2f04"/><rect x="64" y="154" width="6" height="6" fill="#633104"/><rect x="70" y="154" width="7" height="6" fill="#673304"/><rect x="77" y="154" width="6" height="6" fill="#6c3504"/><rect x="83" y="154" width="6" height="6" fill="#713705"/><rect x="89" y="154" width="7" height="6" fill="#783a05"/><rect x="96" y="154" width="6" height="6" fill="#813c06"/><rect x="102" y="154" width="7" height="6" fill="#8a3f07"/><rect x="109" y="154" width="6" height="6" fill="#944107"/><rect x="115" y="154" width="6" height="6" fill="#9f4408"/><rect x="121" y="154" width="7" height="6" fill="#a84609"/><rect x="128" y="154" width="6" height="6" fill="#b0480a"/><rect x="134" y="154" width="6" height="6" fill="#b5490a"/><rect x="140" y="154" width="7" height="6" fill="#b74a0a"/><rect x="147" y="154" width="6" height="6" fill="#b5490a"/><rect x="153" y="154" width="7" height="6" fill="#b04809"/><rect x="160" y="154" width="6" height="6" fill="#a94709"/><rect x="166" y="154" width="6" height="6" fill="#a04508"/><rect x="172" y="154" width="7" height="6" fill="#974307"/><rect x="179" y="154" width="6" height="6" fill="#8f4006"/><rect x="185" y="154" width="6" height="6" fill="#883e05"/><rect x="191" y="154" width="7" height="6" fill="#823c05"/><rect x="198" y="154" width="6" height="6" fill="#7d3a04"/><rect x="204" y="154" width="7" height="6" fill="#793804"/><rect x="211" y="154" width="6" height="6" fill="#763603"/><rect x="217" y="154" width="6" height="6" fill="#733503"/><rect x="223" y="154" width="7" height="6" fill="#713303"/><rect x="230" y="154" width="6" height="6" fill="#6e3103"/><rect x="236" y="154" width="6" height="6" fill="#6c2f02"/><rect x="242" y="154" width="7" height="6" fill="#692c02"/><rect x="249" y="154" width="6" height="6" fill="#662a02"/><rect x="255" y="154" width="7" height="6" fill="#632802"/><rect x="262" y="154" width="6" height="6" fill="#602602"/><rect x="268" y="154" width="6" height="6" fill="#5d2401"/><rect x="274" y="154" width="7" height="6" fill="#5a2201"/><rect x="281" y="154" width="6" height="6" fill="#561f01"/><rect x="1" y="160" width="6" height="7" fill="#401c03"/><rect x="7" y="160" width="6" height="7" fill="#431e03"/><rect x="13" y="160" width="6" height="7" fill="#462003"/><rect x="19" y="160" width="7" height="7" fill="#4a2203"/><rect x="26" y="160" width="6" height="7" fill="#4d2503"/><rect x="32" y="160" width="6" height="7" fill="#502703"/><rect x="38" y="160" width="7" height="7" fill="#542903"/><rect x="45" y="160" width="6" height="7" fill="#572b03"/><rect x="51" y="160" width="7" height="7" fill="#5b2d04"/><rect x="58" y="160" width="6" height="7" fill="#5e2f04"/><rect x="64" y="160" width="6" height="7" fill="#623104"/><rect x="70" y="160" width="7" height="7" fill="#663304"/><rect x="77" y="160" width="6" height="7" fill="#6b3504"/><rect x="83" y="160" width="6" height="7" fill="#713705"/><rect x="89" y="160" width="7" height="7" fill="#783905"/><rect x="96" y="160" width="6" height="7" fill="#803c06"/><rect x="102" y="160" width="7" height="7" fill="#893e06"/><rect x="109" y="160" width="6" height="7" fill="#934107"/><rect x="115" y="160" width="6" height="7" fill="#9d4408"/><rect x="121" y="160" width="7" height="7" fill="#a64609"/><rect x="128" y="160" width="6" height="7" fill="#ae4809"/><rect x="134" y="160" width="6" height="7" fill="#b3490a"/><rect x="140" y="160" width="7" height="7" fill="#b4490a"/><rect x="147" y="160" width="6" height="7" fill="#b3490a"/><rect x="153" y="160" width="7" height="7" fill="#ae4809"/><rect x="160" y="160" width="6" height="7" fill="#a84708"/><rect x="166" y="160" width="6" height="7" fill="#a04508"/><rect x="172" y="160" width="7" height="7" fill="#974307"/><rect x="179" y="160" width="6" height="7" fill="#904106"/><rect x="185" y="160" width="6" height="7" fill="#893f05"/><rect x="191" y="160" width="7" height="7" fill="#833d05"/><rect x="198" y="160" width="6" height="7" fill="#7f3c04"/><rect x="204" y="160" width="7" height="7" fill="#7b3a04"/><rect x="211" y="160" width="6" height="7" fill="#783803"/><rect x="217" y="160" width="6" height="7" fill="#753603"/><rect x="223" y="160" width="7" height="7" fill="#733403"/><rect x="230" y="160" width="6" height="7" fill="#703203"/><rect x="236" y="160" width="6" height="7" fill="#6e3002"/><rect x="242" y="160" width="7" height="7" fill="#6b2d02"/><rect x="249" y="160" width="6" height="7" fill="#682b02"/><rect x="255" y="160" width="7" height="7" fill="#652902"/><rect x="262" y="160" width="6" height="7" fill="#622702"/><rect x="268" y="160" width="6" height="7" fill="#5f2401"/><rect x="274" y="160" width="7" height="7" fill="#5c2201"/><rect x="281" y="160" width="6" height="7" fill="#582001"/><rect x="1" y="167" width="6" height="6" fill="#3f1c03"/><rect x="7" y="167" width="6" height="6" fill="#421e03"/><rect x="13" y="167" width="6" height="6" fill="#452003"/><rect x="19" y="167" width="7" height="6" fill="#492203"/><rect x="26" y="167" width="6" height="6" fill="#4c2403"/><rect x="32" y="167" width="6" height="6" fill="#502603"/><rect x="38" y="167" width="7" height="6" fill="#532803"/><rect x="45" y="167" width="6" height="6" fill="#572a03"/><rect x="51" y="167" width="7" height="6" fill="#5a2c04"/><rect x="58" y="167" width="6" height="6" fill="#5e2e04"/><rect x="64" y="167" width="6" height="6" fill="#613004"/><rect x="70" y="167" width="7" height="6" fill="#663204"/><rect x="77" y="167" width="6" height="6" fill="#6a3404"/><rect x="83" y="167" width="6" height="6" fill="#703705"/><rect x="89" y="167" width="7" height="6" fill="#763905"/><rect x="96" y="167" width="6" height="6" fill="#7e3b05"/><rect x="102" y="167" width="7" height="6" fill="#863e06"/><rect x="109" y="167" width="6" height="6" fill="#904007"/><rect x="115" y="167" width="6" height="6" fill="#994308"/><rect x="121" y="167" width="7" height="6" fill="#a24508"/><rect x="128" y="167" width="6" height="6" fill="#a94709"/><rect x="134" y="167" width="6" height="6" fill="#ad4809"/><rect x="140" y="167" width="7" height="6" fill="#af4909"/><rect x="147" y="167" width="6" height="6" fill="#ae4909"/><rect x="153" y="167" width="7" height="6" fill="#aa4809"/><rect x="160" y="167" width="6" height="6" fill="#a44708"/><rect x="166" y="167" width="6" height="6" fill="#9d4607"/><rect x="172" y="167" width="7" height="6" fill="#964407"/><rect x="179" y="167" width="6" height="6" fill="#8f4206"/><rect x="185" y="167" width="6" height="6" fill="#894005"/><rect x="191" y="167" width="7" height="6" fill="#843f05"/><rect x="198" y="167" width="6" height="6" fill="#803d04"/><rect x="204" y="167" width="7" height="6" fill="#7d3b04"/><rect x="211" y="167" width="6" height="6" fill="#7a3904"/><rect x="217" y="167" width="6" height="6" fill="#773703"/><rect x="223" y="167" width="7" height="6" fill="#753503"/><rect x="230" y="167" width="6" height="6" fill="#723303"/><rect x="236" y="167" width="6" height="6" fill="#703102"/><rect x="242" y="167" width="7" height="6" fill="#6d2e02"/><rect x="249" y="167" width="6" height="6" fill="#6a2c02"/><rect x="255" y="167" width="7" height="6" fill="#672a02"/><rect x="262" y="167" width="6" height="6" fill="#642702"/><rect x="268" y="167" width="6" height="6" fill="#612501"/><rect x="274" y="167" width="7" height="6" fill="#5d2301"/><rect x="281" y="167" width="6" height="6" fill="#5a2101"/><rect x="1" y="173" width="6" height="6" fill="#3e1b03"/><rect x="7" y="173" width="6" height="6" fill="#411d03"/><rect x="13" y="173" width="6" height="6" fill="#451f03"/><rect x="19" y="173" width="7" height="6" fill="#482103"/><rect x="26" y="173" width="6" height="6" fill="#4b2303"/><rect x="32" y="173" width="6" height="6" fill="#4f2503"/><rect x="38" y="173" width="7" height="6" fill="#522803"/><rect x="45" y="173" width="6" height="6" fill="#562a03"/><rect x="51" y="173" width="7" height="6" fill="#592c03"/><rect x="58" y="173" width="6" height="6" fill="#5d2e04"/><rect x="64" y="173" width="6" height="6" fill="#613004"/><rect x="70" y="173" width="7" height="6" fill="#653204"/><rect x="77" y="173" width="6" height="6" fill="#693404"/><rect x="83" y="173" width="6" height="6" fill="#6e3604"/><rect x="89" y="173" width="7" height="6" fill="#743805"/><rect x="96" y="173" width="6" height="6" fill="#7b3a05"/><rect x="102" y="173" width="7" height="6" fill="#833d06"/><rect x="109" y="173" width="6" height="6" fill="#8b3f06"/><rect x="115" y="173" width="6" height="6" fill="#944107"/><rect x="121" y="173" width="7" height="6" fill="#9b4308"/><rect x="128" y="173" width="6" height="6" fill="#a24508"/><rect x="134" y="173" width="6" height="6" fill="#a64708"/><rect x="140" y="173" width="7" height="6" fill="#a84709"/><rect x="147" y="173" width="6" height="6" fill="#a74808"/><rect x="153" y="173" width="7" height="6" fill="#a44708"/><rect x="160" y="173" width="6" height="6" fill="#a04708"/><rect x="166" y="173" width="6" height="6" fill="#9a4607"/><rect x="172" y="173" width="7" height="6" fill="#944506"/><rect x="179" y="173" width="6" height="6" fill="#8e4306"/><rect x="185" y="173" width="6" height="6" fill="#894205"/><rect x="191" y="173" width="7" height="6" fill="#854005"/><rect x="198" y="173" width="6" height="6" fill="#823f05"/><rect x="204" y="173" width="7" height="6" fill="#7f3d04"/><rect x="211" y="173" width="6" height="6" fill="#7c3b04"/><rect x="217" y="173" width="6" height="6" fill="#793904"/><rect x="223" y="173" width="7" height="6" fill="#773703"/><rect x="230" y="173" width="6" height="6" fill="#753503"/><rect x="236" y="173" width="6" height="6" fill="#723203"/><rect x="242" y="173" width="7" height="6" fill="#6f3002"/><rect x="249" y="173" width="6" height="6" fill="#6c2d02"/><rect x="255" y="173" width="7" height="6" fill="#692b02"/><rect x="262" y="173" width="6" height="6" fill="#662802"/><rect x="268" y="173" width="6" height="6" fill="#622601"/><rect x="274" y="173" width="7" height="6" fill="#5f2301"/><rect x="281" y="173" width="6" height="6" fill="#5b2101"/><rect x="1" y="179" width="6" height="7" fill="#3d1b03"/><rect x="7" y="179" width="6" height="7" fill="#401d03"/><rect x="13" y="179" width="6" height="7" fill="#441f03"/><rect x="19" y="179" width="7" height="7" fill="#472103"/><rect x="26" y="179" width="6" height="7" fill="#4a2303"/><rect x="32" y="179" width="6" height="7" fill="#4e2503"/><rect x="38" y="179" width="7" height="7" fill="#512703"/><rect x="45" y="179" width="6" height="7" fill="#552903"/><rect x="51" y="179" width="7" height="7" fill="#582b03"/><rect x="58" y="179" width="6" height="7" fill="#5c2d04"/><rect x="64" y="179" width="6" height="7" fill="#602f04"/><rect x="70" y="179" width="7" height="7" fill="#633104"/><rect x="77" y="179" width="6" height="7" fill="#683304"/><rect x="83" y="179" width="6" height="7" fill="#6c3504"/><rect x="89" y="179" width="7" height="7" fill="#723704"/><rect x="96" y="179" width="6" height="7" fill="#783905"/><rect x="102" y="179" width="7" height="7" fill="#7f3b05"/><rect x="109" y="179" width="6" height="7" fill="#863e06"/><rect x="115" y="179" width="6" height="7" fill="#8d4006"/><rect x="121" y="179" width="7" height="7" fill="#944207"/><rect x="128" y="179" width="6" height="7" fill="#9a4407"/><rect x="134" y="179" width="6" height="7" fill="#9e4508"/><rect x="140" y="179" width="7" height="7" fill="#a04608"/><rect x="147" y="179" width="6" height="7" fill="#a04708"/><rect x="153" y="179" width="7" height="7" fill="#9e4707"/><rect x="160" y="179" width="6" height="7" fill="#9a4607"/><rect x="166" y="179" width="6" height="7" fill="#964607"/><rect x="172" y="179" width="7" height="7" fill="#924506"/><rect x="179" y="179" width="6" height="7" fill="#8d4406"/><rect x="185" y="179" width="6" height="7" fill="#894306"/><rect x="191" y="179" width="7" height="7" fill="#864205"/><rect x="198" y="179" width="6" height="7" fill="#834105"/><rect x="204" y="179" width="7" height="7" fill="#803f05"/><rect x="211" y="179" width="6" height="7" fill="#7e3d04"/><rect x="217" y="179" width="6" height="7" fill="#7c3b04"/><rect x="223" y="179" width="7" height="7" fill="#793903"/><rect x="230" y="179" width="6" height="7" fill="#773603"/><rect x="236" y="179" width="6" height="7" fill="#743403"/><rect x="242" y="179" width="7" height="7" fill="#713102"/><rect x="249" y="179" width="6" height="7" fill="#6e2e02"/><rect x="255" y="179" width="7" height="7" fill="#6b2c02"/><rect x="262" y="179" width="6" height="7" fill="#672902"/><rect x="268" y="179" width="6" height="7" fill="#642601"/><rect x="274" y="179" width="7" height="7" fill="#602401"/><rect x="281" y="179" width="6" height="7" fill="#5c2201"/><rect x="1" y="186" width="6" height="6" fill="#3c1a03"/><rect x="7" y="186" width="6" height="6" fill="#3f1c03"/><rect x="13" y="186" width="6" height="6" fill="#431e03"/><rect x="19" y="186" width="7" height="6" fill="#462003"/><rect x="26" y="186" width="6" height="6" fill="#492203"/><rect x="32" y="186" width="6" height="6" fill="#4d2403"/><rect x="38" y="186" width="7" height="6" fill="#502603"/><rect x="45" y="186" width="6" height="6" fill="#542803"/><rect x="51" y="186" width="7" height="6" fill="#572a03"/><rect x="58" y="186" width="6" height="6" fill="#5b2c03"/><rect x="64" y="186" width="6" height="6" fill="#5e2e04"/><rect x="70" y="186" width="7" height="6" fill="#623004"/><rect x="77" y="186" width="6" height="6" fill="#663204"/><rect x="83" y="186" width="6" height="6" fill="#6b3404"/><rect x="89" y="186" width="7" height="6" fill="#703604"/><rect x="96" y="186" width="6" height="6" fill="#753805"/><rect x="102" y="186" width="7" height="6" fill="#7b3a05"/><rect x="109" y="186" width="6" height="6" fill="#813c05"/><rect x="115" y="186" width="6" height="6" fill="#873e06"/><rect x="121" y="186" width="7" height="6" fill="#8d4006"/><rect x="128" y="186" width="6" height="6" fill="#924207"/><rect x="134" y="186" width="6" height="6" fill="#964407"/><rect x="140" y="186" width="7" height="6" fill="#984507"/><rect x="147" y="186" width="6" height="6" fill="#984607"/><rect x="153" y="186" width="7" height="6" fill="#974607"/><rect x="160" y="186" width="6" height="6" fill="#954607"/><rect x="166" y="186" width="6" height="6" fill="#924606"/><rect x="172" y="186" width="7" height="6" fill="#8f4606"/><rect x="179" y="186" width="6" height="6" fill="#8c4606"/><rect x="185" y="186" width="6" height="6" fill="#894506"/><rect x="191" y="186" width="7" height="6" fill="#874406"/><rect x="198" y="186" width="6" height="6" fill="#844305"/><rect x="204" y="186" width="7" height="6" fill="#824105"/><rect x="211" y="186" width="6" height="6" fill="#803f05"/><rect x="217" y="186" width="6" height="6" fill="#7e3d04"/><rect x="223" y="186" width="7" height="6" fill="#7b3b04"/><rect x="230" y="186" width="6" height="6" fill="#783803"/><rect x="236" y="186" width="6" height="6" fill="#763503"/><rect x="242" y="186" width="7" height="6" fill="#733203"/><rect x="249" y="186" width="6" height="6" fill="#6f2f02"/><rect x="255" y="186" width="7" height="6" fill="#6c2c02"/><rect x="262" y="186" width="6" height="6" fill="#682a02"/><rect x="268" y="186" width="6" height="6" fill="#652701"/><rect x="274" y="186" width="7" height="6" fill="#612501"/><rect x="281" y="186" width="6" height="6" fill="#5d2201"/><rect x="1" y="192" width="6" height="6" fill="#3b1903"/><rect x="7" y="192" width="6" height="6" fill="#3e1b03"/><rect x="13" y="192" width="6" height="6" fill="#421d03"/><rect x="19" y="192" width="7" height="6" fill="#451f03"/><rect x="26" y="192" width="6" height="6" fill="#482103"/><rect x="32" y="192" width="6" height="6" fill="#4c2303"/><rect x="38" y="192" width="7" height="6" fill="#4f2503"/><rect x="45" y="192" width="6" height="6" fill="#532703"/><rect x="51" y="192" width="7" height="6" fill="#562903"/><rect x="58" y="192" width="6" height="6" fill="#5a2b03"/><rect x="64" y="192" width="6" height="6" fill="#5d2d03"/><rect x="70" y="192" width="7" height="6" fill="#612f04"/><rect x="77" y="192" width="6" height="6" fill="#653104"/><rect x="83" y="192" width="6" height="6" fill="#693304"/><rect x="89" y="192" width="7" height="6" fill="#6d3504"/><rect x="96" y="192" width="6" height="6" fill="#723704"/><rect x="102" y="192" width="7" height="6" fill="#773905"/><rect x="109" y="192" width="6" height="6" fill="#7c3b05"/><rect x="115" y="192" width="6" height="6" fill="#823d05"/><rect x="121" y="192" width="7" height="6" fill="#873f06"/><rect x="128" y="192" width="6" height="6" fill="#8b4106"/><rect x="134" y="192" width="6" height="6" fill="#8e4206"/><rect x="140" y="192" width="7" height="6" fill="#914406"/><rect x="147" y="192" width="6" height="6" fill="#924506"/><rect x="153" y="192" width="7" height="6" fill="#924606"/><rect x="160" y="192" width="6" height="6" fill="#914706"/><rect x="166" y="192" width="6" height="6" fill="#8f4706"/><rect x="172" y="192" width="7" height="6" fill="#8d4706"/><rect x="179" y="192" width="6" height="6" fill="#8b4806"/><rect x="185" y="192" width="6" height="6" fill="#8a4706"/><rect x="191" y="192" width="7" height="6" fill="#884706"/><rect x="198" y="192" width="6" height="6" fill="#864606"/><rect x="204" y="192" width="7" height="6" fill="#844405"/><rect x="211" y="192" width="6" height="6" fill="#824205"/><rect x="217" y="192" width="6" height="6" fill="#804005"/><rect x="223" y="192" width="7" height="6" fill="#7d3d04"/><rect x="230" y="192" width="6" height="6" fill="#7a3a04"/><rect x="236" y="192" width="6" height="6" fill="#773703"/><rect x="242" y="192" width="7" height="6" fill="#743303"/><rect x="249" y="192" width="6" height="6" fill="#713002"/><rect x="255" y="192" width="7" height="6" fill="#6d2d02"/><rect x="262" y="192" width="6" height="6" fill="#6a2a02"/><rect x="268" y="192" width="6" height="6" fill="#662801"/><rect x="274" y="192" width="7" height="6" fill="#622501"/><rect x="281" y="192" width="6" height="6" fill="#5e2201"/><rect x="1" y="198" width="6" height="7" fill="#3a1802"/><rect x="7" y="198" width="6" height="7" fill="#3d1a03"/><rect x="13" y="198" width="6" height="7" fill="#411c03"/><rect x="19" y="198" width="7" height="7" fill="#441e03"/><rect x="26" y="198" width="6" height="7" fill="#472003"/><rect x="32" y="198" width="6" height="7" fill="#4b2203"/><rect x="38" y="198" width="7" height="7" fill="#4e2403"/><rect x="45" y="198" width="6" height="7" fill="#512603"/><rect x="51" y="198" width="7" height="7" fill="#552803"/><rect x="58" y="198" width="6" height="7" fill="#582a03"/><rect x="64" y="198" width="6" height="7" fill="#5c2c03"/><rect x="70" y="198" width="7" height="7" fill="#602e03"/><rect x="77" y="198" width="6" height="7" fill="#633004"/><rect x="83" y="198" width="6" height="7" fill="#673204"/><rect x="89" y="198" width="7" height="7" fill="#6b3404"/><rect x="96" y="198" width="6" height="7" fill="#6f3604"/><rect x="102" y="198" width="7" height="7" fill="#743804"/><rect x="109" y="198" width="6" height="7" fill="#783a04"/><rect x="115" y="198" width="6" height="7" fill="#7d3c05"/><rect x="121" y="198" width="7" height="7" fill="#813d05"/><rect x="128" y="198" width="6" height="7" fill="#853f05"/><rect x="134" y="198" width="6" height="7" fill="#884105"/><rect x="140" y="198" width="7" height="7" fill="#8b4306"/><rect x="147" y="198" width="6" height="7" fill="#8c4406"/><rect x="153" y="198" width="7" height="7" fill="#8d4606"/><rect x="160" y="198" width="6" height="7" fill="#8d4706"/><rect x="166" y="198" width="6" height="7" fill="#8d4806"/><rect x="172" y="198" width="7" height="7" fill="#8c4906"/><rect x="179" y="198" width="6" height="7" fill="#8b4906"/><rect x="185" y="198" width="6" height="7" fill="#8a4906"/><rect x="191" y="198" width="7" height="7" fill="#894906"/><rect x="198" y="198" width="6" height="7" fill="#884806"/><rect x="204" y="198" width="7" height="7" fill="#864706"/><rect x="211" y="198" width="6" height="7" fill="#844406"/><rect x="217" y="198" width="6" height="7" fill="#824205"/><rect x="223" y="198" width="7" height="7" fill="#7f3f05"/><rect x="230" y="198" width="6" height="7" fill="#7c3c04"/><rect x="236" y="198" width="6" height="7" fill="#793804"/><rect x="242" y="198" width="7" height="7" fill="#753503"/><rect x="249" y="198" width="6" height="7" fill="#723103"/><rect x="255" y="198" width="7" height="7" fill="#6e2e02"/><rect x="262" y="198" width="6" height="7" fill="#6a2b02"/><rect x="268" y="198" width="6" height="7" fill="#662801"/><rect x="274" y="198" width="7" height="7" fill="#622501"/><rect x="281" y="198" width="6" height="7" fill="#5e2301"/><rect x="1" y="205" width="6" height="6" fill="#391802"/><rect x="7" y="205" width="6" height="6" fill="#3c1a02"/><rect x="13" y="205" width="6" height="6" fill="#3f1b03"/><rect x="19" y="205" width="7" height="6" fill="#431d03"/><rect x="26" y="205" width="6" height="6" fill="#461f03"/><rect x="32" y="205" width="6" height="6" fill="#492103"/><rect x="38" y="205" width="7" height="6" fill="#4d2303"/><rect x="45" y="205" width="6" height="6" fill="#502503"/><rect x="51" y="205" width="7" height="6" fill="#542803"/><rect x="58" y="205" width="6" height="6" fill="#572a03"/><rect x="64" y="205" width="6" height="6" fill="#5b2b03"/><rect x="70" y="205" width="7" height="6" fill="#5e2d03"/><rect x="77" y="205" width="6" height="6" fill="#622f03"/><rect x="83" y="205" width="6" height="6" fill="#663103"/><rect x="89" y="205" width="7" height="6" fill="#693304"/><rect x="96" y="205" width="6" height="6" fill="#6d3504"/><rect x="102" y="205" width="7" height="6" fill="#713704"/><rect x="109" y="205" width="6" height="6" fill="#753904"/><rect x="115" y="205" width="6" height="6" fill="#793b04"/><rect x="121" y="205" width="7" height="6" fill="#7d3c05"/><rect x="128" y="205" width="6" height="6" fill="#813e05"/><rect x="134" y="205" width="6" height="6" fill="#844005"/><rect x="140" y="205" width="7" height="6" fill="#864205"/><rect x="147" y="205" width="6" height="6" fill="#884406"/><rect x="153" y="205" width="7" height="6" fill="#894606"/><rect x="160" y="205" width="6" height="6" fill="#8a4706"/><rect x="166" y="205" width="6" height="6" fill="#8b4906"/><rect x="172" y="205" width="7" height="6" fill="#8b4a07"/><rect x="179" y="205" width="6" height="6" fill="#8b4b07"/><rect x="185" y="205" width="6" height="6" fill="#8b4c07"/><rect x="191" y="205" width="7" height="6" fill="#8a4b07"/><rect x="198" y="205" width="6" height="6" fill="#894b07"/><rect x="204" y="205" width="7" height="6" fill="#884906"/><rect x="211" y="205" width="6" height="6" fill="#864706"/><rect x="217" y="205" width="6" height="6" fill="#834406"/><rect x="223" y="205" width="7" height="6" fill="#814105"/><rect x="230" y="205" width="6" height="6" fill="#7e3d04"/><rect x="236" y="205" width="6" height="6" fill="#7a3a04"/><rect x="242" y="205" width="7" height="6" fill="#773603"/><rect x="249" y="205" width="6" height="6" fill="#733203"/><rect x="255" y="205" width="7" height="6" fill="#6f2f02"/><rect x="262" y="205" width="6" height="6" fill="#6b2c02"/><rect x="268" y="205" width="6" height="6" fill="#672901"/><rect x="274" y="205" width="7" height="6" fill="#632601"/><rect x="281" y="205" width="6" height="6" fill="#5f2301"/><rect x="1" y="211" width="6" height="7" fill="#381702"/><rect x="7" y="211" width="6" height="7" fill="#3b1902"/><rect x="13" y="211" width="6" height="7" fill="#3e1b02"/><rect x="19" y="211" width="7" height="7" fill="#411d03"/><rect x="26" y="211" width="6" height="7" fill="#451e03"/><rect x="32" y="211" width="6" height="7" fill="#482003"/><rect x="38" y="211" width="7" height="7" fill="#4b2203"/><rect x="45" y="211" width="6" height="7" fill="#4f2503"/><rect x="51" y="211" width="7" height="7" fill="#522703"/><rect x="58" y="211" width="6" height="7" fill="#562903"/><rect x="64" y="211" width="6" height="7" fill="#592b03"/><rect x="70" y="211" width="7" height="7" fill="#5d2c03"/><rect x="77" y="211" width="6" height="7" fill="#602e03"/><rect x="83" y="211" width="6" height="7" fill="#643003"/><rect x="89" y="211" width="7" height="7" fill="#683203"/><rect x="96" y="211" width="6" height="7" fill="#6b3404"/><rect x="102" y="211" width="7" height="7" fill="#6f3604"/><rect x="109" y="211" width="6" height="7" fill="#733804"/><rect x="115" y="211" width="6" height="7" fill="#763904"/><rect x="121" y="211" width="7" height="7" fill="#7a3b04"/><rect x="128" y="211" width="6" height="7" fill="#7d3d04"/><rect x="134" y="211" width="6" height="7" fill="#803f05"/><rect x="140" y="211" width="7" height="7" fill="#834105"/><rect x="147" y="211" width="6" height="7" fill="#854405"/><rect x="153" y="211" width="7" height="7" fill="#874606"/><rect x="160" y="211" width="6" height="7" fill="#894806"/><rect x="166" y="211" width="6" height="7" fill="#8a4a06"/><rect x="172" y="211" width="7" height="7" fill="#8b4c07"/><rect x="179" y="211" width="6" height="7" fill="#8b4d07"/><rect x="185" y="211" width="6" height="7" fill="#8c4e07"/><rect x="191" y="211" width="7" height="7" fill="#8b4e07"/><rect x="198" y="211" width="6" height="7" fill="#8b4d07"/><rect x="204" y="211" width="7" height="7" fill="#894b07"/><rect x="211" y="211" width="6" height="7" fill="#874906"/><rect x="217" y="211" width="6" height="7" fill="#854606"/><rect x="223" y="211" width="7" height="7" fill="#824305"/><rect x="230" y="211" width="6" height="7" fill="#7f3f05"/><rect x="236" y="211" width="6" height="7" fill="#7b3b04"/><rect x="242" y="211" width="7" height="7" fill="#773703"/><rect x="249" y="211" width="6" height="7" fill="#733303"/><rect x="255" y="211" width="7" height="7" fill="#6f3002"/><rect x="262" y="211" width="6" height="7" fill="#6b2c02"/><rect x="268" y="211" width="6" height="7" fill="#672902"/><rect x="274" y="211" width="7" height="7" fill="#632601"/><rect x="281" y="211" width="6" height="7" fill="#5f2301"/><rect x="1" y="218" width="6" height="6" fill="#371602"/><rect x="7" y="218" width="6" height="6" fill="#3a1802"/><rect x="13" y="218" width="6" height="6" fill="#3d1a02"/><rect x="19" y="218" width="7" height="6" fill="#401c03"/><rect x="26" y="218" width="6" height="6" fill="#431e03"/><rect x="32" y="218" width="6" height="6" fill="#471f03"/><rect x="38" y="218" width="7" height="6" fill="#4a2103"/><rect x="45" y="218" width="6" height="6" fill="#4d2303"/><rect x="51" y="218" width="7" height="6" fill="#512503"/><rect x="58" y="218" width="6" height="6" fill="#542803"/><rect x="64" y="218" width="6" height="6" fill="#582903"/><rect x="70" y="218" width="7" height="6" fill="#5c2b03"/><rect x="77" y="218" width="6" height="6" fill="#5f2d03"/><rect x="83" y="218" width="6" height="6" fill="#632f03"/><rect x="89" y="218" width="7" height="6" fill="#663103"/><rect x="96" y="218" width="6" height="6" fill="#6a3303"/><rect x="102" y="218" width="7" height="6" fill="#6d3503"/><rect x="109" y="218" width="6" height="6" fill="#713704"/><rect x="115" y="218" width="6" height="6" fill="#743904"/><rect x="121" y="218" width="7" height="6" fill="#773a04"/><rect x="128" y="218" width="6" height="6" fill="#7b3d04"/><rect x="134" y="218" width="6" height="6" fill="#7e3f04"/><rect x="140" y="218" width="7" height="6" fill="#804105"/><rect x="147" y="218" width="6" height="6" fill="#834305"/><rect x="153" y="218" width="7" height="6" fill="#854606"/><rect x="160" y="218" width="6" height="6" fill="#874806"/><rect x="166" y="218" width="6" height="6" fill="#894b06"/><rect x="172" y="218" width="7" height="6" fill="#8b4d07"/><rect x="179" y="218" width="6" height="6" fill="#8c4e07"/><rect x="185" y="218" width="6" height="6" fill="#8c4f07"/><rect x="191" y="218" width="7" height="6" fill="#8c4f08"/><rect x="198" y="218" width="6" height="6" fill="#8c4f07"/><rect x="204" y="218" width="7" height="6" fill="#8b4d07"/><rect x="211" y="218" width="6" height="6" fill="#894b07"/><rect x="217" y="218" width="6" height="6" fill="#864806"/><rect x="223" y="218" width="7" height="6" fill="#834406"/><rect x="230" y="218" width="6" height="6" fill="#804005"/><rect x="236" y="218" width="6" height="6" fill="#7c3c04"/><rect x="242" y="218" width="7" height="6" fill="#783804"/><rect x="249" y="218" width="6" height="6" fill="#743403"/><rect x="255" y="218" width="7" height="6" fill="#703002"/><rect x="262" y="218" width="6" height="6" fill="#6b2c02"/><rect x="268" y="218" width="6" height="6" fill="#672902"/><rect x="274" y="218" width="7" height="6" fill="#632601"/><rect x="281" y="218" width="6" height="6" fill="#5f2301"/><rect x="1" y="224" width="6" height="6" fill="#351502"/><rect x="7" y="224" width="6" height="6" fill="#381702"/><rect x="13" y="224" width="6" height="6" fill="#3b1902"/><rect x="19" y="224" width="7" height="6" fill="#3f1b02"/><rect x="26" y="224" width="6" height="6" fill="#421d03"/><rect x="32" y="224" width="6" height="6" fill="#451e03"/><rect x="38" y="224" width="7" height="6" fill="#492003"/><rect x="45" y="224" width="6" height="6" fill="#4c2203"/><rect x="51" y="224" width="7" height="6" fill="#502403"/><rect x="58" y="224" width="6" height="6" fill="#532603"/><rect x="64" y="224" width="6" height="6" fill="#572803"/><rect x="70" y="224" width="7" height="6" fill="#5a2a03"/><rect x="77" y="224" width="6" height="6" fill="#5e2c03"/><rect x="83" y="224" width="6" height="6" fill="#612e03"/><rect x="89" y="224" width="7" height="6" fill="#653003"/><rect x="96" y="224" width="6" height="6" fill="#683203"/><rect x="102" y="224" width="7" height="6" fill="#6c3403"/><rect x="109" y="224" width="6" height="6" fill="#6f3603"/><rect x="115" y="224" width="6" height="6" fill="#723804"/><rect x="121" y="224" width="7" height="6" fill="#763a04"/><rect x="128" y="224" width="6" height="6" fill="#793c04"/><rect x="134" y="224" width="6" height="6" fill="#7c3e04"/><rect x="140" y="224" width="7" height="6" fill="#7f4005"/><rect x="147" y="224" width="6" height="6" fill="#824305"/><rect x="153" y="224" width="7" height="6" fill="#844606"/><rect x="160" y="224" width="6" height="6" fill="#874806"/><rect x="166" y="224" width="6" height="6" fill="#894b07"/><rect x="172" y="224" width="7" height="6" fill="#8b4d07"/><rect x="179" y="224" width="6" height="6" fill="#8c4f07"/><rect x="185" y="224" width="6" height="6" fill="#8d5008"/><rect x="191" y="224" width="7" height="6" fill="#8d5008"/><rect x="198" y="224" width="6" height="6" fill="#8d5008"/><rect x="204" y="224" width="7" height="6" fill="#8b4e07"/><rect x="211" y="224" width="6" height="6" fill="#894c07"/><rect x="217" y="224" width="6" height="6" fill="#874906"/><rect x="223" y="224" width="7" height="6" fill="#844506"/><rect x="230" y="224" width="6" height="6" fill="#804105"/><rect x="236" y="224" width="6" height="6" fill="#7c3d04"/><rect x="242" y="224" width="7" height="6" fill="#783804"/><rect x="249" y="224" width="6" height="6" fill="#743403"/><rect x="255" y="224" width="7" height="6" fill="#703002"/><rect x="262" y="224" width="6" height="6" fill="#6b2d02"/><rect x="268" y="224" width="6" height="6" fill="#672902"/><rect x="274" y="224" width="7" height="6" fill="#632601"/><rect x="281" y="224" width="6" height="6" fill="#5e2301"/><rect x="1" y="230" width="6" height="7" fill="#341402"/><rect x="7" y="230" width="6" height="7" fill="#371602"/><rect x="13" y="230" width="6" height="7" fill="#3a1802"/><rect x="19" y="230" width="7" height="7" fill="#3d1a02"/><rect x="26" y="230" width="6" height="7" fill="#401b02"/><rect x="32" y="230" width="6" height="7" fill="#441d02"/><rect x="38" y="230" width="7" height="7" fill="#471f03"/><rect x="45" y="230" width="6" height="7" fill="#4b2103"/><rect x="51" y="230" width="7" height="7" fill="#4e2303"/><rect x="58" y="230" width="6" height="7" fill="#522503"/><rect x="64" y="230" width="6" height="7" fill="#552703"/><rect x="70" y="230" width="7" height="7" fill="#592903"/><rect x="77" y="230" width="6" height="7" fill="#5c2b03"/><rect x="83" y="230" width="6" height="7" fill="#602d03"/><rect x="89" y="230" width="7" height="7" fill="#632f03"/><rect x="96" y="230" width="6" height="7" fill="#673103"/><rect x="102" y="230" width="7" height="7" fill="#6a3303"/><rect x="109" y="230" width="6" height="7" fill="#6e3503"/><rect x="115" y="230" width="6" height="7" fill="#713703"/><rect x="121" y="230" width="7" height="7" fill="#743904"/><rect x="128" y="230" width="6" height="7" fill="#773b04"/><rect x="134" y="230" width="6" height="7" fill="#7b3d04"/><rect x="140" y="230" width="7" height="7" fill="#7e4004"/><rect x="147" y="230" width="6" height="7" fill="#814305"/><rect x="153" y="230" width="7" height="7" fill="#834505"/><rect x="160" y="230" width="6" height="7" fill="#864806"/><rect x="166" y="230" width="6" height="7" fill="#884b06"/><rect x="172" y="230" width="7" height="7" fill="#8a4d07"/><rect x="179" y="230" width="6" height="7" fill="#8c4f07"/><rect x="185" y="230" width="6" height="7" fill="#8d5008"/><rect x="191" y="230" width="7" height="7" fill="#8d5108"/><rect x="198" y="230" width="6" height="7" fill="#8d5008"/><rect x="204" y="230" width="7" height="7" fill="#8c4f08"/><rect x="211" y="230" width="6" height="7" fill="#8a4c07"/><rect x="217" y="230" width="6" height="7" fill="#874907"/><rect x="223" y="230" width="7" height="7" fill="#844506"/><rect x="230" y="230" width="6" height="7" fill="#804105"/><rect x="236" y="230" width="6" height="7" fill="#7c3d04"/><rect x="242" y="230" width="7" height="7" fill="#783804"/><rect x="249" y="230" width="6" height="7" fill="#743403"/><rect x="255" y="230" width="7" height="7" fill="#6f3002"/><rect x="262" y="230" width="6" height="7" fill="#6b2c02"/><rect x="268" y="230" width="6" height="7" fill="#662902"/><rect x="274" y="230" width="7" height="7" fill="#622601"/><rect x="281" y="230" width="6" height="7" fill="#5d2301"/><rect x="1" y="237" width="6" height="6" fill="#331302"/><rect x="7" y="237" width="6" height="6" fill="#361502"/><rect x="13" y="237" width="6" height="6" fill="#391702"/><rect x="19" y="237" width="7" height="6" fill="#3c1902"/><rect x="26" y="237" width="6" height="6" fill="#3f1a02"/><rect x="32" y="237" width="6" height="6" fill="#421c02"/><rect x="38" y="237" width="7" height="6" fill="#461e02"/><rect x="45" y="237" width="6" height="6" fill="#492003"/><rect x="51" y="237" width="7" height="6" fill="#4d2203"/><rect x="58" y="237" width="6" height="6" fill="#502403"/><rect x="64" y="237" width="6" height="6" fill="#542603"/><rect x="70" y="237" width="7" height="6" fill="#572803"/><rect x="77" y="237" width="6" height="6" fill="#5b2a03"/><rect x="83" y="237" width="6" height="6" fill="#5f2c03"/><rect x="89" y="237" width="7" height="6" fill="#622e03"/><rect x="96" y="237" width="6" height="6" fill="#663003"/><rect x="102" y="237" width="7" height="6" fill="#693203"/><rect x="109" y="237" width="6" height="6" fill="#6c3403"/><rect x="115" y="237" width="6" height="6" fill="#703603"/><rect x="121" y="237" width="7" height="6" fill="#733803"/><rect x="128" y="237" width="6" height="6" fill="#763a04"/><rect x="134" y="237" width="6" height="6" fill="#793c04"/><rect x="140" y="237" width="7" height="6" fill="#7d3f04"/><rect x="147" y="237" width="6" height="6" fill="#804205"/><rect x="153" y="237" width="7" height="6" fill="#834505"/><rect x="160" y="237" width="6" height="6" fill="#854706"/><rect x="166" y="237" width="6" height="6" fill="#884a06"/><rect x="172" y="237" width="7" height="6" fill="#8a4d07"/><rect x="179" y="237" width="6" height="6" fill="#8c4f07"/><rect x="185" y="237" width="6" height="6" fill="#8d5008"/><rect x="191" y="237" width="7" height="6" fill="#8d5008"/><rect x="198" y="237" width="6" height="6" fill="#8c5008"/><rect x="204" y="237" width="7" height="6" fill="#8b4e07"/><rect x="211" y="237" width="6" height="6" fill="#894c07"/><rect x="217" y="237" width="6" height="6" fill="#874906"/><rect x="223" y="237" width="7" height="6" fill="#834506"/><rect x="230" y="237" width="6" height="6" fill="#804105"/><rect x="236" y="237" width="6" height="6" fill="#7c3d04"/><rect x="242" y="237" width="7" height="6" fill="#773804"/><rect x="249" y="237" width="6" height="6" fill="#733403"/><rect x="255" y="237" width="7" height="6" fill="#6f3002"/><rect x="262" y="237" width="6" height="6" fill="#6a2c02"/><rect x="268" y="237" width="6" height="6" fill="#662902"/><rect x="274" y="237" width="7" height="6" fill="#612601"/><rect x="281" y="237" width="6" height="6" fill="#5d2301"/><rect x="1" y="243" width="6" height="6" fill="#311202"/><rect x="7" y="243" width="6" height="6" fill="#341402"/><rect x="13" y="243" width="6" height="6" fill="#371602"/><rect x="19" y="243" width="7" height="6" fill="#3a1802"/><rect x="26" y="243" width="6" height="6" fill="#3d1902"/><rect x="32" y="243" width="6" height="6" fill="#411b02"/><rect x="38" y="243" width="7" height="6" fill="#441d02"/><rect x="45" y="243" width="6" height="6" fill="#481f02"/><rect x="51" y="243" width="7" height="6" fill="#4b2102"/><rect x="58" y="243" width="6" height="6" fill="#4f2303"/><rect x="64" y="243" width="6" height="6" fill="#522503"/><rect x="70" y="243" width="7" height="6" fill="#562703"/><rect x="77" y="243" width="6" height="6" fill="#5a2903"/><rect x="83" y="243" width="6" height="6" fill="#5d2b03"/><rect x="89" y="243" width="7" height="6" fill="#612d03"/><rect x="96" y="243" width="6" height="6" fill="#642f03"/><rect x="102" y="243" width="7" height="6" fill="#683103"/><rect x="109" y="243" width="6" height="6" fill="#6b3303"/><rect x="115" y="243" width="6" height="6" fill="#6f3503"/><rect x="121" y="243" width="7" height="6" fill="#723703"/><rect x="128" y="243" width="6" height="6" fill="#753903"/><rect x="134" y="243" width="6" height="6" fill="#783c04"/><rect x="140" y="243" width="7" height="6" fill="#7c3e04"/><rect x="147" y="243" width="6" height="6" fill="#7f4105"/><rect x="153" y="243" width="7" height="6" fill="#824405"/><rect x="160" y="243" width="6" height="6" fill="#844606"/><rect x="166" y="243" width="6" height="6" fill="#874906"/><rect x="172" y="243" width="7" height="6" fill="#894b07"/><rect x="179" y="243" width="6" height="6" fill="#8b4d07"/><rect x="185" y="243" width="6" height="6" fill="#8c4f07"/><rect x="191" y="243" width="7" height="6" fill="#8c4f07"/><rect x="198" y="243" width="6" height="6" fill="#8c4f07"/><rect x="204" y="243" width="7" height="6" fill="#8a4d07"/><rect x="211" y="243" width="6" height="6" fill="#884b07"/><rect x="217" y="243" width="6" height="6" fill="#864806"/><rect x="223" y="243" width="7" height="6" fill="#824406"/><rect x="230" y="243" width="6" height="6" fill="#7f4005"/><rect x="236" y="243" width="6" height="6" fill="#7b3c04"/><rect x="242" y="243" width="7" height="6" fill="#763804"/><rect x="249" y="243" width="6" height="6" fill="#723303"/><rect x="255" y="243" width="7" height="6" fill="#6e2f02"/><rect x="262" y="243" width="6" height="6" fill="#692c02"/><rect x="268" y="243" width="6" height="6" fill="#652802"/><rect x="274" y="243" width="7" height="6" fill="#602501"/><rect x="281" y="243" width="6" height="6" fill="#5c2201"/><rect x="1" y="249" width="6" height="7" fill="#301202"/><rect x="7" y="249" width="6" height="7" fill="#331302"/><rect x="13" y="249" width="6" height="7" fill="#361502"/><rect x="19" y="249" width="7" height="7" fill="#391702"/><rect x="26" y="249" width="6" height="7" fill="#3c1802"/><rect x="32" y="249" width="6" height="7" fill="#3f1a02"/><rect x="38" y="249" width="7" height="7" fill="#431c02"/><rect x="45" y="249" width="6" height="7" fill="#461e02"/><rect x="51" y="249" width="7" height="7" fill="#4a2002"/><rect x="58" y="249" width="6" height="7" fill="#4d2202"/><rect x="64" y="249" width="6" height="7" fill="#512402"/><rect x="70" y="249" width="7" height="7" fill="#542603"/><rect x="77" y="249" width="6" height="7" fill="#582803"/><rect x="83" y="249" width="6" height="7" fill="#5c2a03"/><rect x="89" y="249" width="7" height="7" fill="#5f2c03"/><rect x="96" y="249" width="6" height="7" fill="#632e03"/><rect x="102" y="249" width="7" height="7" fill="#673003"/><rect x="109" y="249" width="6" height="7" fill="#6a3203"/><rect x="115" y="249" width="6" height="7" fill="#6d3403"/><rect x="121" y="249" width="7" height="7" fill="#713603"/><rect x="128" y="249" width="6" height="7" fill="#743803"/><rect x="134" y="249" width="6" height="7" fill="#773a04"/><rect x="140" y="249" width="7" height="7" fill="#7a3d04"/><rect x="147" y="249" width="6" height="7" fill="#7e3f04"/><rect x="153" y="249" width="7" height="7" fill="#804205"/><rect x="160" y="249" width="6" height="7" fill="#834505"/><rect x="166" y="249" width="6" height="7" fill="#864706"/><rect x="172" y="249" width="7" height="7" fill="#884a06"/><rect x="179" y="249" width="6" height="7" fill="#894b07"/><rect x="185" y="249" width="6" height="7" fill="#8a4d07"/><rect x="191" y="249" width="7" height="7" fill="#8b4d07"/><rect x="198" y="249" width="6" height="7" fill="#8a4d07"/><rect x="204" y="249" width="7" height="7" fill="#894b07"/><rect x="211" y="249" width="6" height="7" fill="#874906"/><rect x="217" y="249" width="6" height="7" fill="#844606"/><rect x="223" y="249" width="7" height="7" fill="#814305"/><rect x="230" y="249" width="6" height="7" fill="#7d3f05"/><rect x="236" y="249" width="6" height="7" fill="#793b04"/><rect x="242" y="249" width="7" height="7" fill="#753603"/><rect x="249" y="249" width="6" height="7" fill="#713203"/><rect x="255" y="249" width="7" height="7" fill="#6c2f02"/><rect x="262" y="249" width="6" height="7" fill="#682b02"/><rect x="268" y="249" width="6" height="7" fill="#632802"/><rect x="274" y="249" width="7" height="7" fill="#5f2501"/><rect x="281" y="249" width="6" height="7" fill="#5b2201"/><rect x="1" y="256" width="6" height="6" fill="#2f1102"/><rect x="7" y="256" width="6" height="6" fill="#321202"/><rect x="13" y="256" width="6" height="6" fill="#341402"/><rect x="19" y="256" width="7" height="6" fill="#371602"/><rect x="26" y="256" width="6" height="6" fill="#3a1702"/><rect x="32" y="256" width="6" height="6" fill="#3e1902"/><rect x="38" y="256" width="7" height="6" fill="#411b02"/><rect x="45" y="256" width="6" height="6" fill="#451d02"/><rect x="51" y="256" width="7" height="6" fill="#481f02"/><rect x="58" y="256" width="6" height="6" fill="#4c2102"/><rect x="64" y="256" width="6" height="6" fill="#4f2302"/><rect x="70" y="256" width="7" height="6" fill="#532502"/><rect x="77" y="256" width="6" height="6" fill="#572702"/><rect x="83" y="256" width="6" height="6" fill="#5a2902"/><rect x="89" y="256" width="7" height="6" fill="#5e2b03"/><rect x="96" y="256" width="6" height="6" fill="#622d03"/><rect x="102" y="256" width="7" height="6" fill="#652f03"/><rect x="109" y="256" width="6" height="6" fill="#693103"/><rect x="115" y="256" width="6" height="6" fill="#6c3303"/><rect x="121" y="256" width="7" height="6" fill="#703503"/><rect x="128" y="256" width="6" height="6" fill="#733703"/><rect x="134" y="256" width="6" height="6" fill="#763903"/><rect x="140" y="256" width="7" height="6" fill="#793b04"/><rect x="147" y="256" width="6" height="6" fill="#7c3e04"/><rect x="153" y="256" width="7" height="6" fill="#7f4004"/><rect x="160" y="256" width="6" height="6" fill="#824305"/><rect x="166" y="256" width="6" height="6" fill="#844505"/><rect x="172" y="256" width="7" height="6" fill="#864706"/><rect x="179" y="256" width="6" height="6" fill="#884906"/><rect x="185" y="256" width="6" height="6" fill="#884a06"/><rect x="191" y="256" width="7" height="6" fill="#894a06"/><rect x="198" y="256" width="6" height="6" fill="#884a06"/><rect x="204" y="256" width="7" height="6" fill="#874906"/><rect x="211" y="256" width="6" height="6" fill="#854706"/><rect x="217" y="256" width="6" height="6" fill="#824405"/><rect x="223" y="256" width="7" height="6" fill="#7f4105"/><rect x="230" y="256" width="6" height="6" fill="#7c3d04"/><rect x="236" y="256" width="6" height="6" fill="#783904"/><rect x="242" y="256" width="7" height="6" fill="#743503"/><rect x="249" y="256" width="6" height="6" fill="#6f3103"/><rect x="255" y="256" width="7" height="6" fill="#6b2e02"/><rect x="262" y="256" width="6" height="6" fill="#672a02"/><rect x="268" y="256" width="6" height="6" fill="#622701"/><rect x="274" y="256" width="7" height="6" fill="#5e2401"/><rect x="281" y="256" width="6" height="6" fill="#592101"/><rect x="1" y="262" width="6" height="7" fill="#2d1002"/><rect x="7" y="262" width="6" height="7" fill="#301102"/><rect x="13" y="262" width="6" height="7" fill="#331302"/><rect x="19" y="262" width="7" height="7" fill="#361502"/><rect x="26" y="262" width="6" height="7" fill="#391602"/><rect x="32" y="262" width="6" height="7" fill="#3c1802"/><rect x="38" y="262" width="7" height="7" fill="#401a02"/><rect x="45" y="262" width="6" height="7" fill="#431c02"/><rect x="51" y="262" width="7" height="7" fill="#461e02"/><rect x="58" y="262" width="6" height="7" fill="#4a2002"/><rect x="64" y="262" width="6" height="7" fill="#4e2202"/><rect x="70" y="262" width="7" height="7" fill="#512402"/><rect x="77" y="262" width="6" height="7" fill="#552602"/><rect x="83" y="262" width="6" height="7" fill="#592802"/><rect x="89" y="262" width="7" height="7" fill="#5d2a02"/><rect x="96" y="262" width="6" height="7" fill="#602c02"/><rect x="102" y="262" width="7" height="7" fill="#642e02"/><rect x="109" y="262" width="6" height="7" fill="#673003"/><rect x="115" y="262" width="6" height="7" fill="#6b3203"/><rect x="121" y="262" width="7" height="7" fill="#6e3403"/><rect x="128" y="262" width="6" height="7" fill="#723603"/><rect x="134" y="262" width="6" height="7" fill="#753803"/><rect x="140" y="262" width="7" height="7" fill="#783a03"/><rect x="147" y="262" width="6" height="7" fill="#7b3c04"/><rect x="153" y="262" width="7" height="7" fill="#7e3f04"/><rect x="160" y="262" width="6" height="7" fill="#804104"/><rect x="166" y="262" width="6" height="7" fill="#824305"/><rect x="172" y="262" width="7" height="7" fill="#844505"/><rect x="179" y="262" width="6" height="7" fill="#864605"/><rect x="185" y="262" width="6" height="7" fill="#864706"/><rect x="191" y="262" width="7" height="7" fill="#864706"/><rect x="198" y="262" width="6" height="7" fill="#864706"/><rect x="204" y="262" width="7" height="7" fill="#854606"/><rect x="211" y="262" width="6" height="7" fill="#834405"/><rect x="217" y="262" width="6" height="7" fill="#804105"/><rect x="223" y="262" width="7" height="7" fill="#7d3e04"/><rect x="230" y="262" width="6" height="7" fill="#7a3b04"/><rect x="236" y="262" width="6" height="7" fill="#763703"/><rect x="242" y="262" width="7" height="7" fill="#723403"/><rect x="249" y="262" width="6" height="7" fill="#6e3002"/><rect x="255" y="262" width="7" height="7" fill="#692d02"/><rect x="262" y="262" width="6" height="7" fill="#652902"/><rect x="268" y="262" width="6" height="7" fill="#612601"/><rect x="274" y="262" width="7" height="7" fill="#5c2301"/><rect x="281" y="262" width="6" height="7" fill="#582101"/><rect x="1" y="269" width="6" height="6" fill="#2c0f02"/><rect x="7" y="269" width="6" height="6" fill="#2f1002"/><rect x="13" y="269" width="6" height="6" fill="#321202"/><rect x="19" y="269" width="7" height="6" fill="#341402"/><rect x="26" y="269" width="6" height="6" fill="#371502"/><rect x="32" y="269" width="6" height="6" fill="#3b1702"/><rect x="38" y="269" width="7" height="6" fill="#3e1902"/><rect x="45" y="269" width="6" height="6" fill="#411b02"/><rect x="51" y="269" width="7" height="6" fill="#451d02"/><rect x="58" y="269" width="6" height="6" fill="#481f02"/><rect x="64" y="269" width="6" height="6" fill="#4c2102"/><rect x="70" y="269" width="7" height="6" fill="#502302"/><rect x="77" y="269" width="6" height="6" fill="#542502"/><rect x="83" y="269" width="6" height="6" fill="#572702"/><rect x="89" y="269" width="7" height="6" fill="#5b2902"/><rect x="96" y="269" width="6" height="6" fill="#5f2a02"/><rect x="102" y="269" width="7" height="6" fill="#622c02"/><rect x="109" y="269" width="6" height="6" fill="#662e02"/><rect x="115" y="269" width="6" height="6" fill="#693002"/><rect x="121" y="269" width="7" height="6" fill="#6d3203"/><rect x="128" y="269" width="6" height="6" fill="#703403"/><rect x="134" y="269" width="6" height="6" fill="#733603"/><rect x="140" y="269" width="7" height="6" fill="#763803"/><rect x="147" y="269" width="6" height="6" fill="#793a03"/><rect x="153" y="269" width="7" height="6" fill="#7c3d04"/><rect x="160" y="269" width="6" height="6" fill="#7e3f04"/><rect x="166" y="269" width="6" height="6" fill="#804004"/><rect x="172" y="269" width="7" height="6" fill="#824205"/><rect x="179" y="269" width="6" height="6" fill="#834305"/><rect x="185" y="269" width="6" height="6" fill="#844405"/><rect x="191" y="269" width="7" height="6" fill="#844405"/><rect x="198" y="269" width="6" height="6" fill="#834405"/><rect x="204" y="269" width="7" height="6" fill="#824305"/><rect x="211" y="269" width="6" height="6" fill="#804105"/><rect x="217" y="269" width="6" height="6" fill="#7e3e04"/><rect x="223" y="269" width="7" height="6" fill="#7b3c04"/><rect x="230" y="269" width="6" height="6" fill="#783903"/><rect x="236" y="269" width="6" height="6" fill="#743503"/><rect x="242" y="269" width="7" height="6" fill="#703203"/><rect x="249" y="269" width="6" height="6" fill="#6c2f02"/><rect x="255" y="269" width="7" height="6" fill="#682b02"/><rect x="262" y="269" width="6" height="6" fill="#632802"/><rect x="268" y="269" width="6" height="6" fill="#5f2501"/><rect x="274" y="269" width="7" height="6" fill="#5b2301"/><rect x="281" y="269" width="6" height="6" fill="#562001"/><rect x="1" y="275" width="6" height="6" fill="#2b0e02"/><rect x="7" y="275" width="6" height="6" fill="#2d0f02"/><rect x="13" y="275" width="6" height="6" fill="#301102"/><rect x="19" y="275" width="7" height="6" fill="#331302"/><rect x="26" y="275" width="6" height="6" fill="#361402"/><rect x="32" y="275" width="6" height="6" fill="#391602"/><rect x="38" y="275" width="7" height="6" fill="#3c1802"/><rect x="45" y="275" width="6" height="6" fill="#401a02"/><rect x="51" y="275" width="7" height="6" fill="#431c02"/><rect x="58" y="275" width="6" height="6" fill="#471d02"/><rect x="64" y="275" width="6" height="6" fill="#4a1f02"/><rect x="70" y="275" width="7" height="6" fill="#4e2102"/><rect x="77" y="275" width="6" height="6" fill="#522302"/><rect x="83" y="275" width="6" height="6" fill="#562502"/><rect x="89" y="275" width="7" height="6" fill="#592702"/><rect x="96" y="275" width="6" height="6" fill="#5d2902"/><rect x="102" y="275" width="7" height="6" fill="#612b02"/><rect x="109" y="275" width="6" height="6" fill="#642d02"/><rect x="115" y="275" width="6" height="6" fill="#682f02"/><rect x="121" y="275" width="7" height="6" fill="#6b3102"/><rect x="128" y="275" width="6" height="6" fill="#6f3303"/><rect x="134" y="275" width="6" height="6" fill="#723503"/><rect x="140" y="275" width="7" height="6" fill="#753703"/><rect x="147" y="275" width="6" height="6" fill="#773903"/><rect x="153" y="275" width="7" height="6" fill="#7a3b03"/><rect x="160" y="275" width="6" height="6" fill="#7c3c04"/><rect x="166" y="275" width="6" height="6" fill="#7e3e04"/><rect x="172" y="275" width="7" height="6" fill="#803f04"/><rect x="179" y="275" width="6" height="6" fill="#814004"/><rect x="185" y="275" width="6" height="6" fill="#814104"/><rect x="191" y="275" width="7" height="6" fill="#814104"/><rect x="198" y="275" width="6" height="6" fill="#814004"/><rect x="204" y="275" width="7" height="6" fill="#7f3f04"/><rect x="211" y="275" width="6" height="6" fill="#7e3e04"/><rect x="217" y="275" width="6" height="6" fill="#7b3c04"/><rect x="223" y="275" width="7" height="6" fill="#793903"/><rect x="230" y="275" width="6" height="6" fill="#753603"/><rect x="236" y="275" width="6" height="6" fill="#723303"/><rect x="242" y="275" width="7" height="6" fill="#6e3002"/><rect x="249" y="275" width="6" height="6" fill="#6a2d02"/><rect x="255" y="275" width="7" height="6" fill="#662a02"/><rect x="262" y="275" width="6" height="6" fill="#622701"/><rect x="268" y="275" width="6" height="6" fill="#5d2501"/><rect x="274" y="275" width="7" height="6" fill="#592201"/><rect x="281" y="275" width="6" height="6" fill="#551f01"/><rect x="1" y="281" width="6" height="7" fill="#2a0d02"/><rect x="7" y="281" width="6" height="7" fill="#2c0f02"/><rect x="13" y="281" width="6" height="7" fill="#2f1002"/><rect x="19" y="281" width="7" height="7" fill="#321202"/><rect x="26" y="281" width="6" height="7" fill="#341302"/><rect x="32" y="281" width="6" height="7" fill="#381502"/><rect x="38" y="281" width="7" height="7" fill="#3b1702"/><rect x="45" y="281" width="6" height="7" fill="#3e1902"/><rect x="51" y="281" width="7" height="7" fill="#421a02"/><rect x="58" y="281" width="6" height="7" fill="#451c02"/><rect x="64" y="281" width="6" height="7" fill="#491e02"/><rect x="70" y="281" width="7" height="7" fill="#4d2002"/><rect x="77" y="281" width="6" height="7" fill="#502202"/><rect x="83" y="281" width="6" height="7" fill="#542402"/><rect x="89" y="281" width="7" height="7" fill="#582602"/><rect x="96" y="281" width="6" height="7" fill="#5c2802"/><rect x="102" y="281" width="7" height="7" fill="#5f2a02"/><rect x="109" y="281" width="6" height="7" fill="#632c02"/><rect x="115" y="281" width="6" height="7" fill="#662e02"/><rect x="121" y="281" width="7" height="7" fill="#6a3002"/><rect x="128" y="281" width="6" height="7" fill="#6d3102"/><rect x="134" y="281" width="6" height="7" fill="#703302"/><rect x="140" y="281" width="7" height="7" fill="#733503"/><rect x="147" y="281" width="6" height="7" fill="#763703"/><rect x="153" y="281" width="7" height="7" fill="#783803"/><rect x="160" y="281" width="6" height="7" fill="#7a3a03"/><rect x="166" y="281" width="6" height="7" fill="#7c3b03"/><rect x="172" y="281" width="7" height="7" fill="#7d3d03"/><rect x="179" y="281" width="6" height="7" fill="#7e3d04"/><rect x="185" y="281" width="6" height="7" fill="#7f3e04"/><rect x="191" y="281" width="7" height="7" fill="#7f3e04"/><rect x="198" y="281" width="6" height="7" fill="#7e3d04"/><rect x="204" y="281" width="7" height="7" fill="#7d3c04"/><rect x="211" y="281" width="6" height="7" fill="#7b3b03"/><rect x="217" y="281" width="6" height="7" fill="#793903"/><rect x="223" y="281" width="7" height="7" fill="#763603"/><rect x="230" y="281" width="6" height="7" fill="#733403"/><rect x="236" y="281" width="6" height="7" fill="#703102"/><rect x="242" y="281" width="7" height="7" fill="#6c2f02"/><rect x="249" y="281" width="6" height="7" fill="#682c02"/><rect x="255" y="281" width="7" height="7" fill="#642902"/><rect x="262" y="281" width="6" height="7" fill="#602601"/><rect x="268" y="281" width="6" height="7" fill="#5c2401"/><rect x="274" y="281" width="7" height="7" fill="#572101"/><rect x="281" y="281" width="6" height="7" fill="#531f01"/><rect x="1" y="288" width="6" height="6" fill="#280c02"/><rect x="7" y="288" width="6" height="6" fill="#2b0e02"/><rect x="13" y="288" width="6" height="6" fill="#2d0f02"/><rect x="19" y="288" width="7" height="6" fill="#301102"/><rect x="26" y="288" width="6" height="6" fill="#331202"/><rect x="32" y="288" width="6" height="6" fill="#361402"/><rect x="38" y="288" width="7" height="6" fill="#391602"/><rect x="45" y="288" width="6" height="6" fill="#3d1702"/><rect x="51" y="288" width="7" height="6" fill="#401902"/><rect x="58" y="288" width="6" height="6" fill="#431b02"/><rect x="64" y="288" width="6" height="6" fill="#471d02"/><rect x="70" y="288" width="7" height="6" fill="#4b1f02"/><rect x="77" y="288" width="6" height="6" fill="#4f2102"/><rect x="83" y="288" width="6" height="6" fill="#522302"/><rect x="89" y="288" width="7" height="6" fill="#562502"/><rect x="96" y="288" width="6" height="6" fill="#5a2702"/><rect x="102" y="288" width="7" height="6" fill="#5d2902"/><rect x="109" y="288" width="6" height="6" fill="#612b02"/><rect x="115" y="288" width="6" height="6" fill="#652c02"/><rect x="121" y="288" width="7" height="6" fill="#682e02"/><rect x="128" y="288" width="6" height="6" fill="#6b3002"/><rect x="134" y="288" width="6" height="6" fill="#6e3202"/><rect x="140" y="288" width="7" height="6" fill="#713302"/><rect x="147" y="288" width="6" height="6" fill="#743502"/><rect x="153" y="288" width="7" height="6" fill="#763603"/><rect x="160" y="288" width="6" height="6" fill="#783803"/><rect x="166" y="288" width="6" height="6" fill="#7a3903"/><rect x="172" y="288" width="7" height="6" fill="#7b3a03"/><rect x="179" y="288" width="6" height="6" fill="#7c3b03"/><rect x="185" y="288" width="6" height="6" fill="#7c3b03"/><rect x="191" y="288" width="7" height="6" fill="#7c3b03"/><rect x="198" y="288" width="6" height="6" fill="#7b3a03"/><rect x="204" y="288" width="7" height="6" fill="#7a3903"/><rect x="211" y="288" width="6" height="6" fill="#783803"/><rect x="217" y="288" width="6" height="6" fill="#763603"/><rect x="223" y="288" width="7" height="6" fill="#733403"/><rect x="230" y="288" width="6" height="6" fill="#713202"/><rect x="236" y="288" width="6" height="6" fill="#6d2f02"/><rect x="242" y="288" width="7" height="6" fill="#6a2d02"/><rect x="249" y="288" width="6" height="6" fill="#662a02"/><rect x="255" y="288" width="7" height="6" fill="#622801"/><rect x="262" y="288" width="6" height="6" fill="#5e2501"/><rect x="268" y="288" width="6" height="6" fill="#5a2301"/><rect x="274" y="288" width="7" height="6" fill="#562001"/><rect x="281" y="288" width="6" height="6" fill="#511e01"/><rect x="1" y="294" width="6" height="6" fill="#270b02"/><rect x="7" y="294" width="6" height="6" fill="#290d02"/><rect x="13" y="294" width="6" height="6" fill="#2c0e02"/><rect x="19" y="294" width="7" height="6" fill="#2f1002"/><rect x="26" y="294" width="6" height="6" fill="#321102"/><rect x="32" y="294" width="6" height="6" fill="#351302"/><rect x="38" y="294" width="7" height="6" fill="#381502"/><rect x="45" y="294" width="6" height="6" fill="#3b1602"/><rect x="51" y="294" width="7" height="6" fill="#3e1802"/><rect x="58" y="294" width="6" height="6" fill="#421a02"/><rect x="64" y="294" width="6" height="6" fill="#451c02"/><rect x="70" y="294" width="7" height="6" fill="#491e02"/><rect x="77" y="294" width="6" height="6" fill="#4d2002"/><rect x="83" y="294" width="6" height="6" fill="#502202"/><rect x="89" y="294" width="7" height="6" fill="#542402"/><rect x="96" y="294" width="6" height="6" fill="#582602"/><rect x="102" y="294" width="7" height="6" fill="#5c2702"/><rect x="109" y="294" width="6" height="6" fill="#5f2902"/><rect x="115" y="294" width="6" height="6" fill="#632b02"/><rect x="121" y="294" width="7" height="6" fill="#662d02"/><rect x="128" y="294" width="6" height="6" fill="#692f02"/><rect x="134" y="294" width="6" height="6" fill="#6c3002"/><rect x="140" y="294" width="7" height="6" fill="#6f3202"/><rect x="147" y="294" width="6" height="6" fill="#713302"/><rect x="153" y="294" width="7" height="6" fill="#743502"/><rect x="160" y="294" width="6" height="6" fill="#763602"/><rect x="166" y="294" width="6" height="6" fill="#773703"/><rect x="172" y="294" width="7" height="6" fill="#783703"/><rect x="179" y="294" width="6" height="6" fill="#793803"/><rect x="185" y="294" width="6" height="6" fill="#793803"/><rect x="191" y="294" width="7" height="6" fill="#793803"/><rect x="198" y="294" width="6" height="6" fill="#783703"/><rect x="204" y="294" width="7" height="6" fill="#773703"/><rect x="211" y="294" width="6" height="6" fill="#763502"/><rect x="217" y="294" width="6" height="6" fill="#733402"/><rect x="223" y="294" width="7" height="6" fill="#713202"/><rect x="230" y="294" width="6" height="6" fill="#6e3002"/><rect x="236" y="294" width="6" height="6" fill="#6b2e02"/><rect x="242" y="294" width="7" height="6" fill="#672b02"/><rect x="249" y="294" width="6" height="6" fill="#642901"/><rect x="255" y="294" width="7" height="6" fill="#602601"/><rect x="262" y="294" width="6" height="6" fill="#5c2401"/><rect x="268" y="294" width="6" height="6" fill="#582201"/><rect x="274" y="294" width="7" height="6" fill="#541f01"/><rect x="281" y="294" width="6" height="6" fill="#501d01"/><rect x="0" y="14" width="1" height="6" fill="#2e1102" fill-opacity="0.8"/><rect x="287" y="14" width="1" height="6" fill="#651f02" fill-opacity="0.06"/><rect x="0" y="20" width="1" height="6" fill="#2f1202" fill-opacity="0.8"/><rect x="287" y="20" width="1" height="6" fill="#742302" fill-opacity="0.06"/><rect x="0" y="26" width="1" height="7" fill="#311302" fill-opacity="0.8"/><rect x="287" y="26" width="1" height="7" fill="#812802" fill-opacity="0.06"/><rect x="0" y="33" width="1" height="6" fill="#331402" fill-opacity="0.8"/><rect x="287" y="33" width="1" height="6" fill="#8a2b02" fill-opacity="0.06"/><rect x="0" y="39" width="1" height="7" fill="#341502" fill-opacity="0.8"/><rect x="287" y="39" width="1" height="7" fill="#8f2d02" fill-opacity="0.06"/><rect x="0" y="46" width="1" height="6" fill="#361602" fill-opacity="0.8"/><rect x="287" y="46" width="1" height="6" fill="#8e2d02" fill-opacity="0.06"/><rect x="0" y="52" width="1" height="6" fill="#371703" fill-opacity="0.8"/><rect x="287" y="52" width="1" height="6" fill="#892c02" fill-opacity="0.06"/><rect x="0" y="58" width="1" height="7" fill="#391803" fill-opacity="0.8"/><rect x="287" y="58" width="1" height="7" fill="#812902" fill-opacity="0.06"/><rect x="0" y="65" width="1" height="6" fill="#3a1903" fill-opacity="0.8"/><rect x="287" y="65" width="1" height="6" fill="#762702" fill-opacity="0.06"/><rect x="0" y="71" width="1" height="6" fill="#3b1a03" fill-opacity="0.8"/><rect x="287" y="71" width="1" height="6" fill="#6b2302" fill-opacity="0.06"/><rect x="0" y="77" width="1" height="7" fill="#3c1a03" fill-opacity="0.8"/><rect x="287" y="77" width="1" height="7" fill="#602102" fill-opacity="0.06"/><rect x="0" y="84" width="1" height="6" fill="#3d1b03" fill-opacity="0.8"/><rect x="287" y="84" width="1" height="6" fill="#581e02" fill-opacity="0.06"/><rect x="0" y="90" width="1" height="7" fill="#3e1c03" fill-opacity="0.8"/><rect x="287" y="90" width="1" height="7" fill="#511d02" fill-opacity="0.06"/><rect x="0" y="97" width="1" height="6" fill="#3f1c03" fill-opacity="0.8"/><rect x="287" y="97" width="1" height="6" fill="#4d1c02" fill-opacity="0.06"/><rect x="0" y="103" width="1" height="6" fill="#401d03" fill-opacity="0.8"/><rect x="287" y="103" width="1" height="6" fill="#4b1b02" fill-opacity="0.06"/><rect x="0" y="109" width="1" height="7" fill="#401d03" fill-opacity="0.8"/><rect x="287" y="109" width="1" height="7" fill="#4a1b02" fill-opacity="0.06"/><rect x="0" y="116" width="1" height="6" fill="#411d03" fill-opacity="0.8"/><rect x="287" y="116" width="1" height="6" fill="#4b1b02" fill-opacity="0.06"/><rect x="0" y="122" width="1" height="6" fill="#411d03" fill-opacity="0.8"/><rect x="287" y="122" width="1" height="6" fill="#4c1c01" fill-opacity="0.06"/><rect x="0" y="128" width="1" height="7" fill="#411d03" fill-opacity="0.8"/><rect x="287" y="128" width="1" height="7" fill="#4e1d01" fill-opacity="0.06"/><rect x="0" y="135" width="1" height="6" fill="#411d03" fill-opacity="0.8"/><rect x="287" y="135" width="1" height="6" fill="#501d01" fill-opacity="0.06"/><rect x="0" y="141" width="1" height="7" fill="#411d03" fill-opacity="0.8"/><rect x="287" y="141" width="1" height="7" fill="#521e01" fill-opacity="0.06"/><rect x="0" y="148" width="1" height="6" fill="#411d03" fill-opacity="0.8"/><rect x="287" y="148" width="1" height="6" fill="#541f01" fill-opacity="0.06"/><rect x="0" y="154" width="1" height="6" fill="#401d03" fill-opacity="0.8"/><rect x="287" y="154" width="1" height="6" fill="#561f01" fill-opacity="0.06"/><rect x="0" y="160" width="1" height="7" fill="#401c03" fill-opacity="0.8"/><rect x="287" y="160" width="1" height="7" fill="#582001" fill-opacity="0.06"/><rect x="0" y="167" width="1" height="6" fill="#3f1c03" fill-opacity="0.8"/><rect x="287" y="167" width="1" height="6" fill="#5a2101" fill-opacity="0.06"/><rect x="0" y="173" width="1" height="6" fill="#3e1b03" fill-opacity="0.8"/><rect x="287" y="173" width="1" height="6" fill="#5b2101" fill-opacity="0.06"/><rect x="0" y="179" width="1" height="7" fill="#3d1b03" fill-opacity="0.8"/><rect x="287" y="179" width="1" height="7" fill="#5c2201" fill-opacity="0.06"/><rect x="0" y="186" width="1" height="6" fill="#3c1a03" fill-opacity="0.8"/><rect x="287" y="186" width="1" height="6" fill="#5d2201" fill-opacity="0.06"/><rect x="0" y="192" width="1" height="6" fill="#3b1903" fill-opacity="0.8"/><rect x="287" y="192" width="1" height="6" fill="#5e2201" fill-opacity="0.06"/><rect x="0" y="198" width="1" height="7" fill="#3a1802" fill-opacity="0.8"/><rect x="287" y="198" width="1" height="7" fill="#5e2301" fill-opacity="0.06"/><rect x="0" y="205" width="1" height="6" fill="#391802" fill-opacity="0.8"/><rect x="287" y="205" width="1" height="6" fill="#5f2301" fill-opacity="0.06"/><rect x="0" y="211" width="1" height="7" fill="#381702" fill-opacity="0.8"/><rect x="287" y="211" width="1" height="7" fill="#5f2301" fill-opacity="0.06"/><rect x="0" y="218" width="1" height="6" fill="#371602" fill-opacity="0.8"/><rect x="287" y="218" width="1" height="6" fill="#5f2301" fill-opacity="0.06"/><rect x="0" y="224" width="1" height="6" fill="#351502" fill-opacity="0.8"/><rect x="287" y="224" width="1" height="6" fill="#5e2301" fill-opacity="0.06"/><rect x="0" y="230" width="1" height="7" fill="#341402" fill-opacity="0.8"/><rect x="287" y="230" width="1" height="7" fill="#5d2301" fill-opacity="0.06"/><rect x="0" y="237" width="1" height="6" fill="#331302" fill-opacity="0.8"/><rect x="287" y="237" width="1" height="6" fill="#5d2301" fill-opacity="0.06"/><rect x="0" y="243" width="1" height="6" fill="#311202" fill-opacity="0.8"/><rect x="287" y="243" width="1" height="6" fill="#5c2201" fill-opacity="0.06"/><rect x="0" y="249" width="1" height="7" fill="#301202" fill-opacity="0.8"/><rect x="287" y="249" width="1" height="7" fill="#5b2201" fill-opacity="0.06"/><rect x="0" y="256" width="1" height="6" fill="#2f1102" fill-opacity="0.8"/><rect x="287" y="256" width="1" height="6" fill="#592101" fill-opacity="0.06"/><rect x="0" y="262" width="1" height="7" fill="#2d1002" fill-opacity="0.8"/><rect x="287" y="262" width="1" height="7" fill="#582101" fill-opacity="0.06"/><rect x="0" y="269" width="1" height="6" fill="#2c0f02" fill-opacity="0.8"/><rect x="287" y="269" width="1" height="6" fill="#562001" fill-opacity="0.06"/><rect x="0" y="275" width="1" height="6" fill="#2b0e02" fill-opacity="0.8"/><rect x="287" y="275" width="1" height="6" fill="#551f01" fill-opacity="0.06"/><rect x="0" y="281" width="1" height="7" fill="#2a0d02" fill-opacity="0.8"/><rect x="287" y="281" width="1" height="7" fill="#531f01" fill-opacity="0.06"/><rect x="0" y="288" width="1" height="6" fill="#280c02" fill-opacity="0.8"/><rect x="287" y="288" width="1" height="6" fill="#511e01" fill-opacity="0.06"/><rect x="0" y="294" width="1" height="6" fill="#270b02" fill-opacity="0.8"/><rect x="287" y="294" width="1" height="6" fill="#501d01" fill-opacity="0.06"/><rect x="1" y="13" width="6" height="1" fill="#2e1102" fill-opacity="0.25"/><rect x="1" y="300" width="6" height="1" fill="#270b02" fill-opacity="0.4"/><rect x="7" y="13" width="6" height="1" fill="#2f1202" fill-opacity="0.25"/><rect x="7" y="300" width="6" height="1" fill="#290d02" fill-opacity="0.4"/><rect x="13" y="13" width="6" height="1" fill="#311302" fill-opacity="0.25"/><rect x="13" y="300" width="6" height="1" fill="#2c0e02" fill-opacity="0.4"/><rect x="19" y="13" width="7" height="1" fill="#331502" fill-opacity="0.25"/><rect x="19" y="300" width="7" height="1" fill="#2f1002" fill-opacity="0.4"/><rect x="26" y="13" width="6" height="1" fill="#351602" fill-opacity="0.25"/><rect x="26" y="300" width="6" height="1" fill="#321102" fill-opacity="0.4"/><rect x="32" y="13" width="6" height="1" fill="#371703" fill-opacity="0.25"/><rect x="32" y="300" width="6" height="1" fill="#351302" fill-opacity="0.4"/><rect x="38" y="13" width="7" height="1" fill="#391803" fill-opacity="0.25"/><rect x="38" y="300" width="7" height="1" fill="#381502" fill-opacity="0.4"/><rect x="45" y="13" width="6" height="1" fill="#3b1a03" fill-opacity="0.25"/><rect x="45" y="300" width="6" height="1" fill="#3b1602" fill-opacity="0.4"/><rect x="51" y="13" width="7" height="1" fill="#3d1b03" fill-opacity="0.25"/><rect x="51" y="300" width="7" height="1" fill="#3e1802" fill-opacity="0.4"/><rect x="58" y="13" width="6" height="1" fill="#3e1c03" fill-opacity="0.25"/><rect x="58" y="300" width="6" height="1" fill="#421a02" fill-opacity="0.4"/><rect x="64" y="13" width="6" height="1" fill="#401d03" fill-opacity="0.25"/><rect x="64" y="300" width="6" height="1" fill="#451c02" fill-opacity="0.4"/><rect x="70" y="13" width="7" height="1" fill="#411e03" fill-opacity="0.25"/><rect x="70" y="300" width="7" height="1" fill="#491e02" fill-opacity="0.4"/><rect x="77" y="13" width="6" height="1" fill="#431e03" fill-opacity="0.25"/><rect x="77" y="300" width="6" height="1" fill="#4d2002" fill-opacity="0.4"/><rect x="83" y="13" width="6" height="1" fill="#441f03" fill-opacity="0.25"/><rect x="83" y="300" width="6" height="1" fill="#502202" fill-opacity="0.4"/><rect x="89" y="13" width="7" height="1" fill="#452003" fill-opacity="0.25"/><rect x="89" y="300" width="7" height="1" fill="#542402" fill-opacity="0.4"/><rect x="96" y="13" width="6" height="1" fill="#462003" fill-opacity="0.25"/><rect x="96" y="300" width="6" height="1" fill="#582602" fill-opacity="0.4"/><rect x="102" y="13" width="7" height="1" fill="#462103" fill-opacity="0.25"/><rect x="102" y="300" width="7" height="1" fill="#5c2702" fill-opacity="0.4"/><rect x="109" y="13" width="6" height="1" fill="#472103" fill-opacity="0.25"/><rect x="109" y="300" width="6" height="1" fill="#5f2902" fill-opacity="0.4"/><rect x="115" y="13" width="6" height="1" fill="#472103" fill-opacity="0.25"/><rect x="115" y="300" width="6" height="1" fill="#632b02" fill-opacity="0.4"/><rect x="121" y="13" width="7" height="1" fill="#482203" fill-opacity="0.25"/><rect x="121" y="300" width="7" height="1" fill="#662d02" fill-opacity="0.4"/><rect x="128" y="13" width="6" height="1" fill="#482203" fill-opacity="0.25"/><rect x="128" y="300" width="6" height="1" fill="#692f02" fill-opacity="0.4"/><rect x="134" y="13" width="6" height="1" fill="#472203" fill-opacity="0.25"/><rect x="134" y="300" width="6" height="1" fill="#6c3002" fill-opacity="0.4"/><rect x="140" y="13" width="7" height="1" fill="#472103" fill-opacity="0.25"/><rect x="140" y="300" width="7" height="1" fill="#6f3202" fill-opacity="0.4"/><rect x="147" y="13" width="6" height="1" fill="#472103" fill-opacity="0.25"/><rect x="147" y="300" width="6" height="1" fill="#713302" fill-opacity="0.4"/><rect x="153" y="13" width="7" height="1" fill="#462103" fill-opacity="0.25"/><rect x="153" y="300" width="7" height="1" fill="#743502" fill-opacity="0.4"/><rect x="160" y="13" width="6" height="1" fill="#452003" fill-opacity="0.25"/><rect x="160" y="300" width="6" height="1" fill="#763602" fill-opacity="0.4"/><rect x="166" y="13" width="6" height="1" fill="#441f03" fill-opacity="0.25"/><rect x="166" y="300" width="6" height="1" fill="#773703" fill-opacity="0.4"/><rect x="172" y="13" width="7" height="1" fill="#431f03" fill-opacity="0.25"/><rect x="172" y="300" width="7" height="1" fill="#783703" fill-opacity="0.4"/><rect x="179" y="13" width="6" height="1" fill="#421e03" fill-opacity="0.25"/><rect x="179" y="300" width="6" height="1" fill="#793803" fill-opacity="0.4"/><rect x="185" y="13" width="6" height="1" fill="#411d03" fill-opacity="0.25"/><rect x="185" y="300" width="6" height="1" fill="#793803" fill-opacity="0.4"/><rect x="191" y="13" width="7" height="1" fill="#401c03" fill-opacity="0.25"/><rect x="191" y="300" width="7" height="1" fill="#793803" fill-opacity="0.4"/><rect x="198" y="13" width="6" height="1" fill="#3f1b03" fill-opacity="0.25"/><rect x="198" y="300" width="6" height="1" fill="#783703" fill-opacity="0.4"/><rect x="204" y="13" width="7" height="1" fill="#3f1b03" fill-opacity="0.25"/><rect x="204" y="300" width="7" height="1" fill="#773703" fill-opacity="0.4"/><rect x="211" y="13" width="6" height="1" fill="#3f1a03" fill-opacity="0.25"/><rect x="211" y="300" width="6" height="1" fill="#763502" fill-opacity="0.4"/><rect x="217" y="13" width="6" height="1" fill="#401a02" fill-opacity="0.25"/><rect x="217" y="300" width="6" height="1" fill="#733402" fill-opacity="0.4"/><rect x="223" y="13" width="7" height="1" fill="#431a02" fill-opacity="0.25"/><rect x="223" y="300" width="7" height="1" fill="#713202" fill-opacity="0.4"/><rect x="230" y="13" width="6" height="1" fill="#471b02" fill-opacity="0.25"/><rect x="230" y="300" width="6" height="1" fill="#6e3002" fill-opacity="0.4"/><rect x="236" y="13" width="6" height="1" fill="#4d1c02" fill-opacity="0.25"/><rect x="236" y="300" width="6" height="1" fill="#6b2e02" fill-opacity="0.4"/><rect x="242" y="13" width="7" height="1" fill="#531d02" fill-opacity="0.25"/><rect x="242" y="300" width="7" height="1" fill="#672b02" fill-opacity="0.4"/><rect x="249" y="13" width="6" height="1" fill="#5a1e02" fill-opacity="0.25"/><rect x="249" y="300" width="6" height="1" fill="#642901" fill-opacity="0.4"/><rect x="255" y="13" width="7" height="1" fill="#612002" fill-opacity="0.25"/><rect x="255" y="300" width="7" height="1" fill="#602601" fill-opacity="0.4"/><rect x="262" y="13" width="6" height="1" fill="#662102" fill-opacity="0.25"/><rect x="262" y="300" width="6" height="1" fill="#5c2401" fill-opacity="0.4"/><rect x="268" y="13" width="6" height="1" fill="#692102" fill-opacity="0.25"/><rect x="268" y="300" width="6" height="1" fill="#582201" fill-opacity="0.4"/><rect x="274" y="13" width="7" height="1" fill="#692002" fill-opacity="0.25"/><rect x="274" y="300" width="7" height="1" fill="#541f01" fill-opacity="0.4"/><rect x="281" y="13" width="6" height="1" fill="#651f02" fill-opacity="0.25"/><rect x="281" y="300" width="6" height="1" fill="#501d01" fill-opacity="0.4"/><rect x="0" y="13" width="1" height="1" fill="#2e1102" fill-opacity="0.20"/><rect x="0" y="300" width="1" height="1" fill="#270b02" fill-opacity="0.32"/><path d="M1,14.5H287M1,299.5H287M286.5,14V300" stroke="#000" stroke-opacity="0.12" stroke-width="1" fill="none"/></svg>
<svg class="ch" width="685" height="348" viewBox="0 0 685 348"><polyline points="357.45,298.80 377.46,299.40 397.47,296.70 417.48,299.30 437.50,299.50 457.51,299.50 477.52,299.50 497.53,299.50 517.54,299.50 537.55,299.50 557.57,299.50 577.58,296.70 597.59,299.50 617.60,299.80" fill="none" stroke="#008000" stroke-width="1.8" stroke-linejoin="round" stroke-linecap="square"/><circle cx="357.45" cy="298.80" r="4.05" fill="#008000"/><circle cx="377.46" cy="299.40" r="4.05" fill="#008000"/><circle cx="397.47" cy="296.70" r="4.05" fill="#008000"/><circle cx="417.48" cy="299.30" r="4.05" fill="#008000"/><circle cx="437.50" cy="299.50" r="4.05" fill="#008000"/><circle cx="457.51" cy="299.50" r="4.05" fill="#008000"/><circle cx="477.52" cy="299.50" r="4.05" fill="#008000"/><circle cx="497.53" cy="299.50" r="4.05" fill="#008000"/><circle cx="517.54" cy="299.50" r="4.05" fill="#008000"/><circle cx="537.55" cy="299.50" r="4.05" fill="#008000"/><circle cx="557.57" cy="299.50" r="4.05" fill="#008000"/><circle cx="577.58" cy="296.70" r="4.05" fill="#008000"/><circle cx="597.59" cy="299.50" r="4.05" fill="#008000"/><circle cx="617.60" cy="299.80" r="4.05" fill="#008000"/><polyline points="357.45,295.20 377.46,295.30 397.47,295.30 417.48,295.40 437.50,295.40 457.51,295.40 477.52,295.40 497.53,259.00 517.54,295.20 537.55,259.70 557.57,295.50 577.58,295.50 597.59,295.50 617.60,296.20" fill="none" stroke="#ff0000" stroke-width="1.8" stroke-linejoin="round" stroke-linecap="square"/><circle cx="357.45" cy="295.20" r="4.05" fill="#ff0000"/><circle cx="377.46" cy="295.30" r="4.05" fill="#ff0000"/><circle cx="397.47" cy="295.30" r="4.05" fill="#ff0000"/><circle cx="417.48" cy="295.40" r="4.05" fill="#ff0000"/><circle cx="437.50" cy="295.40" r="4.05" fill="#ff0000"/><circle cx="457.51" cy="295.40" r="4.05" fill="#ff0000"/><circle cx="477.52" cy="295.40" r="4.05" fill="#ff0000"/><circle cx="497.53" cy="259.00" r="4.05" fill="#ff0000"/><circle cx="517.54" cy="295.20" r="4.05" fill="#ff0000"/><circle cx="537.55" cy="259.70" r="4.05" fill="#ff0000"/><circle cx="557.57" cy="295.50" r="4.05" fill="#ff0000"/><circle cx="577.58" cy="295.50" r="4.05" fill="#ff0000"/><circle cx="597.59" cy="295.50" r="4.05" fill="#ff0000"/><circle cx="617.60" cy="296.20" r="4.05" fill="#ff0000"/><polyline points="357.45,284.50 377.46,285.50 397.47,286.30 417.48,286.50 437.50,284.20 457.51,286.30 477.52,284.50 497.53,295.00 517.54,286.00 537.55,286.00 557.57,284.30 577.58,288.80 597.59,174.90 617.60,284.70" fill="none" stroke="#0000ff" stroke-width="1.8" stroke-linejoin="round" stroke-linecap="square"/><circle cx="357.45" cy="284.50" r="4.05" fill="#0000ff"/><circle cx="377.46" cy="285.50" r="4.05" fill="#0000ff"/><circle cx="397.47" cy="286.30" r="4.05" fill="#0000ff"/><circle cx="417.48" cy="286.50" r="4.05" fill="#0000ff"/><circle cx="437.50" cy="284.20" r="4.05" fill="#0000ff"/><circle cx="457.51" cy="286.30" r="4.05" fill="#0000ff"/><circle cx="477.52" cy="284.50" r="4.05" fill="#0000ff"/><circle cx="497.53" cy="295.00" r="4.05" fill="#0000ff"/><circle cx="517.54" cy="286.00" r="4.05" fill="#0000ff"/><circle cx="537.55" cy="286.00" r="4.05" fill="#0000ff"/><circle cx="557.57" cy="284.30" r="4.05" fill="#0000ff"/><circle cx="577.58" cy="288.80" r="4.05" fill="#0000ff"/><circle cx="597.59" cy="174.90" r="4.05" fill="#0000ff"/><circle cx="617.60" cy="284.70" r="4.05" fill="#0000ff"/><polyline points="357.45,268.90 377.46,62.60 397.47,268.90 417.48,270.50 437.50,296.70 457.51,14.90 477.52,269.40 497.53,269.00 517.54,223.30 537.55,298.20 557.57,275.60 577.58,270.10 597.59,268.90 617.60,17.20" fill="none" stroke="#808080" stroke-width="1.8" stroke-linejoin="round" stroke-linecap="square"/><circle cx="357.45" cy="268.90" r="4.05" fill="#808080"/><circle cx="377.46" cy="62.60" r="4.05" fill="#808080"/><circle cx="397.47" cy="268.90" r="4.05" fill="#808080"/><circle cx="417.48" cy="270.50" r="4.05" fill="#808080"/><circle cx="437.50" cy="296.70" r="4.05" fill="#808080"/><circle cx="457.51" cy="14.90" r="4.05" fill="#808080"/><circle cx="477.52" cy="269.40" r="4.05" fill="#808080"/><circle cx="497.53" cy="269.00" r="4.05" fill="#808080"/><circle cx="517.54" cy="223.30" r="4.05" fill="#808080"/><circle cx="537.55" cy="298.20" r="4.05" fill="#808080"/><circle cx="557.57" cy="275.60" r="4.05" fill="#808080"/><circle cx="577.58" cy="270.10" r="4.05" fill="#808080"/><circle cx="597.59" cy="268.90" r="4.05" fill="#808080"/><circle cx="617.60" cy="17.20" r="4.05" fill="#808080"/><path d="M344.2,0.7 H630.75 M344.2,313.75 H630.75 M344.2,0.7 V313.75 M630.75,0.7 V313.75" fill="none" stroke="#111" stroke-width="0.96" stroke-linecap="square"/><line x1="340.31" y1="299.10" x2="344.2" y2="299.10" stroke="#000" stroke-width="0.89"/><text class="tk" x="336.30" y="303.40" text-anchor="end" textLength="17.65" lengthAdjust="spacingAndGlyphs">0.0</text><line x1="340.31" y1="242.26" x2="344.2" y2="242.26" stroke="#000" stroke-width="0.89"/><text class="tk" x="336.30" y="246.56" text-anchor="end" textLength="17.65" lengthAdjust="spacingAndGlyphs">0.2</text><line x1="340.31" y1="185.42" x2="344.2" y2="185.42" stroke="#000" stroke-width="0.89"/><text class="tk" x="336.30" y="189.72" text-anchor="end" textLength="17.65" lengthAdjust="spacingAndGlyphs">0.4</text><line x1="340.31" y1="128.58" x2="344.2" y2="128.58" stroke="#000" stroke-width="0.89"/><text class="tk" x="336.30" y="132.88" text-anchor="end" textLength="17.65" lengthAdjust="spacingAndGlyphs">0.6</text><line x1="340.31" y1="71.74" x2="344.2" y2="71.74" stroke="#000" stroke-width="0.89"/><text class="tk" x="336.30" y="76.04" text-anchor="end" textLength="17.65" lengthAdjust="spacingAndGlyphs">0.8</text><line x1="340.31" y1="14.90" x2="344.2" y2="14.90" stroke="#000" stroke-width="0.89"/><text class="tk" x="336.30" y="19.20" text-anchor="end" textLength="17.65" lengthAdjust="spacingAndGlyphs">1.0</text><line x1="377.46" y1="313.75" x2="377.46" y2="317.64" stroke="#000" stroke-width="0.89"/><text class="tk" x="377.66" y="330.10" text-anchor="middle" textLength="7.06" lengthAdjust="spacingAndGlyphs">2</text><line x1="417.48" y1="313.75" x2="417.48" y2="317.64" stroke="#000" stroke-width="0.89"/><text class="tk" x="417.68" y="330.10" text-anchor="middle" textLength="7.06" lengthAdjust="spacingAndGlyphs">4</text><line x1="457.51" y1="313.75" x2="457.51" y2="317.64" stroke="#000" stroke-width="0.89"/><text class="tk" x="457.71" y="330.10" text-anchor="middle" textLength="7.06" lengthAdjust="spacingAndGlyphs">6</text><line x1="497.53" y1="313.75" x2="497.53" y2="317.64" stroke="#000" stroke-width="0.89"/><text class="tk" x="497.73" y="330.10" text-anchor="middle" textLength="7.06" lengthAdjust="spacingAndGlyphs">8</text><line x1="537.55" y1="313.75" x2="537.55" y2="317.64" stroke="#000" stroke-width="0.89"/><text class="tk" x="537.75" y="330.10" text-anchor="middle" textLength="14.12" lengthAdjust="spacingAndGlyphs">10</text><line x1="577.58" y1="313.75" x2="577.58" y2="317.64" stroke="#000" stroke-width="0.89"/><text class="tk" x="577.78" y="330.10" text-anchor="middle" textLength="14.12" lengthAdjust="spacingAndGlyphs">12</text><line x1="617.60" y1="313.75" x2="617.60" y2="317.64" stroke="#000" stroke-width="0.89"/><text class="tk" x="617.80" y="330.10" text-anchor="middle" textLength="14.12" lengthAdjust="spacingAndGlyphs">14</text><text class="lb" x="487.1" y="345.6" text-anchor="middle" textLength="55.6" lengthAdjust="spacingAndGlyphs">Time step</text><text class="lb" transform="translate(311.5,156.7) rotate(-90)" x="0" y="0" text-anchor="middle" textLength="101.6" lengthAdjust="spacingAndGlyphs">Scaled Brightness</text><rect x="636.6" y="122.6" width="47.0" height="68.4" rx="2.2" ry="2.2" fill="#fff" fill-opacity="0.8" stroke="#cccccc" stroke-width="0.89"/><line x1="641.0" y1="131.4" x2="663.2" y2="131.4" stroke="#008000" stroke-width="1.8" stroke-linecap="square"/><circle cx="652.1" cy="131.4" r="4.05" fill="#008000"/><text class="lg" x="672.6" y="135.00">g</text><line x1="641.0" y1="148.1" x2="663.2" y2="148.1" stroke="#ff0000" stroke-width="1.8" stroke-linecap="square"/><circle cx="652.1" cy="148.1" r="4.05" fill="#ff0000"/><text class="lg" x="672.6" y="151.70">r</text><line x1="641.0" y1="164.8" x2="663.2" y2="164.8" stroke="#0000ff" stroke-width="1.8" stroke-linecap="square"/><circle cx="652.1" cy="164.8" r="4.05" fill="#0000ff"/><text class="lg" x="672.6" y="168.40">i</text><line x1="641.0" y1="181.5" x2="663.2" y2="181.5" stroke="#808080" stroke-width="1.8" stroke-linecap="square"/><circle cx="652.1" cy="181.5" r="4.05" fill="#808080"/><text class="lg" x="672.6" y="185.10">z</text></svg>
</body></html>
